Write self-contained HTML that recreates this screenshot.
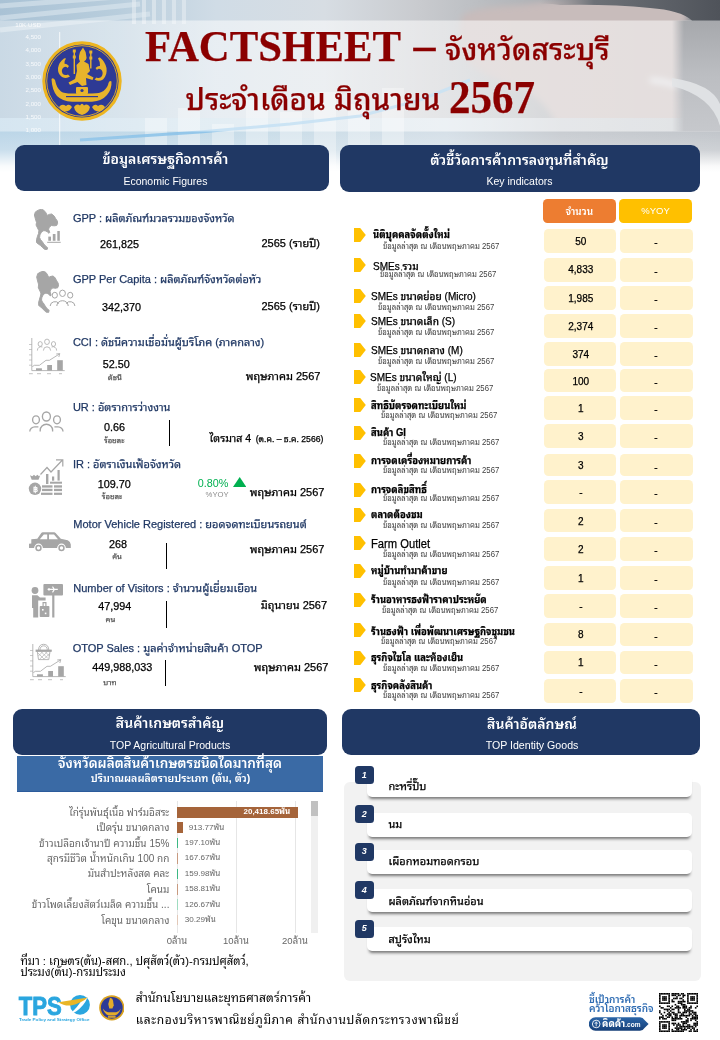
<!DOCTYPE html>
<html><head><meta charset="utf-8"><title>FACTSHEET สระบุรี</title>
<style>
html,body{margin:0;padding:0;}
body{width:720px;height:1040px;position:relative;overflow:hidden;background:#fff;font-family:'Liberation Sans','Noto Sans Thai Looped','Loma',sans-serif;}
.t{position:absolute;white-space:nowrap;-webkit-text-stroke:0.25px currentColor;}
.ns{-webkit-text-stroke:0 !important;}
.r{position:absolute;}
</style></head><body>
<svg class="r" style="left:0;top:0" width="720" height="172" viewBox="0 0 720 172">
<defs>
<linearGradient id="hb" x1="0" y1="0" x2="1" y2="0">
<stop offset="0" stop-color="#a9c2d5"/><stop offset="0.17" stop-color="#b9cedd"/><stop offset="0.3" stop-color="#d0dce6"/><stop offset="0.45" stop-color="#d7dde3"/><stop offset="0.58" stop-color="#c9cbcf"/><stop offset="0.72" stop-color="#b3b6ba"/><stop offset="0.86" stop-color="#979ba1"/><stop offset="1" stop-color="#80858c"/>
</linearGradient>
<radialGradient id="hand" cx="0.5" cy="0.5" r="0.5"><stop offset="0" stop-color="#d3cbcb"/><stop offset="0.75" stop-color="#cfc8c8"/><stop offset="1" stop-color="#cfc8c8" stop-opacity="0"/></radialGradient>
<linearGradient id="fade" x1="0" y1="0" x2="0" y2="1"><stop offset="0" stop-color="#fff" stop-opacity="0"/><stop offset="0.45" stop-color="#fff" stop-opacity="0.2"/><stop offset="0.85" stop-color="#fff" stop-opacity="0.9"/><stop offset="1" stop-color="#fff" stop-opacity="1"/></linearGradient>
<filter id="bl" x="-20%" y="-20%" width="140%" height="140%"><feGaussianBlur stdDeviation="6"/></filter><filter id="bl2" x="-20%" y="-20%" width="140%" height="140%"><feGaussianBlur stdDeviation="3"/></filter>
</defs>
<rect x="0" y="0" width="720" height="172" fill="url(#hb)"/>
<g opacity="0.5" stroke="#e4edf3" stroke-width="5"><path d="M0 6 L130 -4 M0 18 L140 4 M0 30 L150 14"/></g>
<g fill="#e6edf2" opacity="0.6"><rect x="132" y="0" width="4" height="24"/><rect x="142" y="0" width="4" height="24"/><rect x="152" y="0" width="4" height="24"/><rect x="162" y="0" width="4" height="24"/><rect x="172" y="0" width="4" height="24"/><rect x="182" y="0" width="4" height="24"/></g>
<path d="M462 16 Q470 8 520 5 L600 -5 L690 -5 Q684 40 682 80 Q684 110 690 132 L560 134 Q548 100 520 88 Q490 80 470 64 Q455 40 462 16Z" fill="#c8bcbb" filter="url(#bl2)"/>
<path d="M650 80 Q705 85 718 125" stroke="#e4e6ea" stroke-width="5" fill="none" filter="url(#bl2)"/>
<linearGradient id="lowl" x1="0" y1="0" x2="1" y2="0"><stop offset="0" stop-color="#bcd6e8"/><stop offset="0.5" stop-color="#c9dde9"/><stop offset="0.8" stop-color="#cfdbe4" stop-opacity="0.6"/><stop offset="1" stop-color="#cfdbe4" stop-opacity="0"/></linearGradient>
<linearGradient id="lowall" x1="0" y1="0" x2="1" y2="0"><stop offset="0" stop-color="#bcd6e8"/><stop offset="0.35" stop-color="#c9dde9"/><stop offset="0.62" stop-color="#d6e0e8"/><stop offset="0.78" stop-color="#c9cdd2"/><stop offset="1" stop-color="#c2c6cb"/></linearGradient>
<rect x="0" y="118" width="720" height="54" fill="url(#lowall)"/>
<g fill="#ffffff" opacity="0.35"><rect x="145" y="118" width="22" height="54"/><rect x="178" y="108" width="22" height="64"/><rect x="212" y="124" width="22" height="48"/><rect x="246" y="100" width="22" height="72"/><rect x="280" y="112" width="22" height="60"/><rect x="314" y="92" width="22" height="80"/><rect x="348" y="104" width="22" height="68"/><rect x="382" y="88" width="22" height="84"/></g>
<path d="M80 140 L200 132 L290 124 L360 116 L420 100 L470 80" stroke="#86c0e8" stroke-width="3" fill="none" opacity="0.85"/>
<linearGradient id="band" x1="0" y1="0" x2="1" y2="0"><stop offset="0" stop-color="#fff" stop-opacity="0.38"/><stop offset="0.25" stop-color="#fff" stop-opacity="0.5"/><stop offset="0.6" stop-color="#fff" stop-opacity="0.55"/><stop offset="1" stop-color="#fff" stop-opacity="0.5"/></linearGradient>
<rect x="0" y="20.5" width="720" height="111" fill="url(#band)"/>
<rect x="59.2" y="32" width="1" height="140" fill="#fff" opacity="0.8"/>
<g font-family="Liberation Sans" font-size="6.2" fill="#fff" opacity="0.85" text-anchor="end"><text x="41" y="27">10K USD</text><text x="41" y="38.8">4,500</text><text x="41" y="52.3">4,000</text><text x="41" y="65.8">3,500</text><text x="41" y="79.1">3,000</text><text x="41" y="92.3">2,500</text><text x="41" y="106.3">2,000</text><text x="41" y="119.3">1,500</text><text x="41" y="132.3">1,000</text></g>
<linearGradient id="rg" x1="0" y1="0" x2="0" y2="1"><stop offset="0" stop-color="#a6a8ac"/><stop offset="0.5" stop-color="#bcbec2"/><stop offset="1" stop-color="#c6c8cc"/></linearGradient>
<linearGradient id="rgx" x1="0" y1="0" x2="1" y2="0"><stop offset="0" stop-color="#fff" stop-opacity="0"/><stop offset="0.25" stop-color="#fff" stop-opacity="1"/></linearGradient>
<mask id="rm"><rect x="672" y="0" width="48" height="172" fill="url(#rgx)"/></mask>
<rect x="672" y="20.5" width="48" height="111" fill="url(#rg)" mask="url(#rm)"/>
<path d="M672 78 Q712 84 720 104 L720 126 Q712 96 672 86Z" fill="#e2e4e7" opacity="0.9"/>
<linearGradient id="tdg" x1="0" y1="0" x2="1" y2="0"><stop offset="0" stop-color="#7d8187" stop-opacity="0"/><stop offset="0.3" stop-color="#6d7177"/><stop offset="1" stop-color="#4f535a"/></linearGradient>
<path d="M540 0 H720 V20.5 H692 Q680 10 650 8 Q610 4 560 5 Q548 3 540 4Z" fill="url(#tdg)"/>
<linearGradient id="brg" x1="0" y1="0" x2="1" y2="0"><stop offset="0" stop-color="#b8bcc1" stop-opacity="0"/><stop offset="0.3" stop-color="#b8bcc1"/><stop offset="1" stop-color="#c3c8cd"/></linearGradient>

<rect x="0" y="132" width="720" height="40" fill="url(#fade)"/>
</svg>
<svg class="r" style="left:42px;top:41.4px" width="80" height="80" viewBox="0 0 80 80">
<circle cx="40" cy="40" r="39.7" fill="#edb520"/>
<circle cx="40" cy="40" r="36.6" fill="#2e3a95"/>
<circle cx="40" cy="40" r="35.3" fill="none" stroke="#e8b228" stroke-width="0.9"/>
<g fill="#e8b42c">
<path d="M41 6.5 L43.6 11 L44.6 17 Q44 20 42 20.5 L46.5 23 L48 30 L45 33 L51.5 36.5 L50.5 39 L44 37 L44.5 44 L40 45 L35.5 41 L28 44 L26.5 41.5 L33 38 L35 30 L34.5 24 L38 20.5 Q36.5 18.5 37 15 L38 11 Z"/>
<path d="M30.8 8.5 h3 v3 h-0.8 v3 h0.8 v3 h-0.8 v15.5 h-1.4 v-15.5 h-0.8 v-3 h0.8 v-3 h-0.8z"/>
<path d="M47.3 9.5 h3 v3 h-0.8 v3 h0.8 v3 h-0.8 v9 h-1.4 v-9 h-0.8 v-3 h0.8 v-3 h-0.8z"/>
<path d="M22 17.5 Q17 21 16 27 Q15.5 33 20 36 Q24.5 38 28 35.5 L26 33.5 Q22.5 35 20.5 32.5 Q18.8 29 21.5 26.5 Q24 25 25.5 27 L27 25 Q24.5 22.5 22.5 22.8 Q22 20 24 17.5 Q23 17 22 17.5Z"/>
<path d="M58 16.5 Q63 20.5 64.5 27 Q65.5 34 61 38.5 Q57 41 52.5 38.5 L54.5 36.5 Q58 38 60 35 Q61.7 31 59 28.5 Q56.5 27 55 29 L53.5 27 Q56 24.5 58 25 Q58.5 21 56 17.5 Q57 16 58 16.5Z"/>
<path d="M9.5 38 Q11 36 13 39 Q14.5 47 19 50.5 Q22 52.5 30 52.5 L50 52.5 Q58 52.5 61.5 50 Q66 46 66.5 42 Q67.5 39 69.5 40.5 Q70 48 65 54 Q60 60 50 60.8 L30 60.8 Q20 60 15 55 Q10 49 9.5 38Z"/>
<rect x="34" y="46" width="12" height="7" rx="1"/>
<path d="M17 66 Q20 62 24 65 Q27 62 30 66 Q28 70 24 70.5 Q19 70 17 66Z"/>
<path d="M50 66 Q53 62 56 65 Q60 62 63 66 Q61 70 56 70.5 Q52 70 50 66Z"/>
<path d="M32 66 Q35 62 38 64.5 Q40 61 42 64.5 Q45 62 48 66 Q47 72 40 74 Q33 72 32 66Z"/>
</g>
<g fill="#2e3a95"><circle cx="40" cy="49.5" r="1.6"/><rect x="24" y="55" width="32" height="1.2"/></g>
</svg>
<div class="t" style="top:17.65px;font-size:44.3px;line-height:57.59px;color:#8b0000;font-weight:bold;font-family:'Liberation Serif','Noto Serif Thai',serif;left:145.3px;transform:scaleX(0.966);transform-origin:0 0;">FACTSHEET</div>
<div class="t" style="top:17.25px;font-size:44px;line-height:57.2px;color:#8b0000;font-weight:bold;font-family:'Liberation Serif','Noto Serif Thai',serif;left:413.5px;">–</div>
<div class="t" style="top:29.80px;font-size:30px;line-height:39.0px;color:#8b0000;font-weight:500;font-family:'Liberation Sans','Noto Sans Thai Looped','Loma',sans-serif;left:445px;">จังหวัดสระบุรี</div>
<div class="t" style="top:81.40px;font-size:29.7px;line-height:38.61px;color:#8b0000;font-weight:500;font-family:'Liberation Sans','Noto Sans Thai Looped','Loma',sans-serif;left:185.5px;">ประจำเดือน มิถุนายน</div>
<div class="t" style="top:67.87px;font-size:45.5px;line-height:59.15px;color:#8b0000;font-weight:bold;font-family:'Liberation Serif','Noto Serif Thai',serif;left:449px;transform:scaleX(0.945);transform-origin:0 0;">2567</div>
<div class="r" style="left:15px;top:145px;width:314px;height:46px;background:#203864;border-radius:9px;"></div>
<div class="t ns" style="top:150.35px;font-size:14px;line-height:18.2px;color:#fff;font-weight:600;font-family:'Liberation Sans','Noto Sans Thai Looped','Loma',sans-serif;left:-134.6px;width:600px;text-align:center;">ข้อมูลเศรษฐกิจการค้า</div>
<div class="t ns" style="top:174.54px;font-size:10.5px;line-height:13.65px;color:#fff;font-weight:normal;font-family:'Liberation Sans','Noto Sans Thai Looped','Loma',sans-serif;left:-134.6px;width:600px;text-align:center;">Economic Figures</div>
<div class="r" style="left:340px;top:145px;width:360px;height:46.5px;background:#203864;border-radius:9px;"></div>
<div class="t ns" style="top:151.05px;font-size:14px;line-height:18.2px;color:#fff;font-weight:600;font-family:'Liberation Sans','Noto Sans Thai Looped','Loma',sans-serif;left:219.5px;width:600px;text-align:center;">ตัวชี้วัดการค้าการลงทุนที่สำคัญ</div>
<div class="t ns" style="top:175.24px;font-size:10.5px;line-height:13.65px;color:#fff;font-weight:normal;font-family:'Liberation Sans','Noto Sans Thai Looped','Loma',sans-serif;left:219.5px;width:600px;text-align:center;">Key indicators</div>
<svg class="r" style="left:34px;top:209px" width="27" height="41" viewBox="0 0 27 41"><path d="M7.3 0.2 L9.75 1.2 L11.8 3.6 L13.2 6.4 L15.3 5.4 L17.7 5 L20.2 7.1 L21.6 9.5 L23.3 12 L23.6 14.4 L22.6 16.5 L20.2 16.8 L17.4 16.5 L15.3 18.2 L14.6 20.3 L15.7 23.4 L15 24.3 L13.2 22.7 L11.1 21.7 L9.1 21.8 L7.3 23.4 L5.9 25.9 L5.6 28.6 L6.6 30.7 L8.4 32.8 L9.75 34.9 L11.5 37 L13.6 38.7 L13.2 40.4 L10.8 40.4 L8.7 38.7 L6.6 36.6 L4.2 34.9 L2.5 33.5 L2.5 30.7 L3.5 27.25 L4.5 24.5 L4.9 21.7 L3.5 18.9 L2.1 16.1 L2.5 13.4 L1.4 9.9 L0.4 6 L1.4 2.9 L4.2 1.2 Z" fill="#a6a6a6" stroke="#a6a6a6" stroke-width="1" stroke-linejoin="round"/><g fill="#a6a6a6"><rect x="14.3" y="27.6" width="2.7" height="4.2"/><rect x="18.8" y="25" width="2.7" height="6.8"/><rect x="23.3" y="22" width="2.5" height="9.8"/><rect x="13.2" y="32.8" width="13.5" height="1"/></g></svg>
<div class="t" style="top:211.24px;font-size:11px;line-height:14.3px;color:#203864;font-weight:normal;font-family:'Liberation Sans','Noto Sans Thai Looped','Loma',sans-serif;left:72.9px;">GPP : ผลิตภัณฑ์มวลรวมของจังหวัด</div>
<div class="t" style="top:237.04px;font-size:10.8px;line-height:14.04px;color:#000;font-weight:normal;font-family:'Liberation Sans','Noto Sans Thai Looped','Loma',sans-serif;left:100px;">261,825</div>
<div class="t" style="top:236.14px;font-size:11px;line-height:14.3px;color:#000;font-weight:normal;font-family:'Liberation Sans','Noto Sans Thai Looped','Loma',sans-serif;right:400px;text-align:right;">2565 (รายปี)</div>
<svg class="r" style="left:36px;top:271px" width="40" height="42" viewBox="0 0 40 42"><path d="M7.3 0.2 L9.75 1.2 L11.8 3.6 L13.2 6.4 L15.3 5.4 L17.7 5 L20.2 7.1 L21.6 9.5 L23.3 12 L23.6 14.4 L22.6 16.5 L20.2 16.8 L17.4 16.5 L15.3 18.2 L14.6 20.3 L15.7 23.4 L15 24.3 L13.2 22.7 L11.1 21.7 L9.1 21.8 L7.3 23.4 L5.9 25.9 L5.6 28.6 L6.6 30.7 L8.4 32.8 L9.75 34.9 L11.5 37 L13.6 38.7 L13.2 40.4 L10.8 40.4 L8.7 38.7 L6.6 36.6 L4.2 34.9 L2.5 33.5 L2.5 30.7 L3.5 27.25 L4.5 24.5 L4.9 21.7 L3.5 18.9 L2.1 16.1 L2.5 13.4 L1.4 9.9 L0.4 6 L1.4 2.9 L4.2 1.2 Z" fill="#a6a6a6" stroke="#a6a6a6" stroke-width="1" stroke-linejoin="round" transform="translate(0.3,0) scale(0.94,1.02)"/><g fill="none" stroke="#a6a6a6" stroke-width="1"><ellipse cx="18.8" cy="24.2" rx="2.6" ry="2.9"/><ellipse cx="26.5" cy="22.3" rx="2.9" ry="3.2"/><ellipse cx="34.2" cy="24.2" rx="2.6" ry="2.9"/><path d="M14.2 35 a4.8 4.4 0 0 1 8.8 -2.4"/><path d="M20.8 35 a5.7 5.3 0 0 1 11.4 0"/><path d="M30.1 32.6 a4.8 4.4 0 0 1 8.8 2.4"/></g></svg>
<div class="t" style="top:271.74px;font-size:11px;line-height:14.3px;color:#203864;font-weight:normal;font-family:'Liberation Sans','Noto Sans Thai Looped','Loma',sans-serif;left:72.9px;">GPP Per Capita : ผลิตภัณฑ์จังหวัดต่อหัว</div>
<div class="t" style="top:299.64px;font-size:10.8px;line-height:14.04px;color:#000;font-weight:normal;font-family:'Liberation Sans','Noto Sans Thai Looped','Loma',sans-serif;left:102px;">342,370</div>
<div class="t" style="top:299.04px;font-size:11px;line-height:14.3px;color:#000;font-weight:normal;font-family:'Liberation Sans','Noto Sans Thai Looped','Loma',sans-serif;right:400px;text-align:right;">2565 (รายปี)</div>
<svg class="r" style="left:25px;top:333px" width="45" height="45" viewBox="0 0 45 45"><g stroke="#a6a6a6" fill="none"><path d="M6.8 5 V37.6 H39.7" stroke-width="0.8"/>
<path d="M4 11.5 H6.8 M4 16.5 H6.8 M4 21.9 H6.8 M4 27 H6.8 M4 32.2 H6.8" stroke-width="0.6"/>
<path d="M7.3 33.6 L9.4 32.3 H14.4 L21 27.3 H24.4 L34.4 21" stroke-width="0.8"/>
<path d="M31.2 21 L34.8 20.6 L33.8 24" stroke-width="0.8"/>
<path d="M4 40.7 H7.8 M12 40.7 H16 M22 40.7 H26 M34 40.7 H37" stroke-width="0.7"/></g>
<g fill="#a6a6a6"><rect x="11" y="35.3" width="5.9" height="2.3"/><rect x="22.2" y="32" width="4.8" height="5.6"/><rect x="32.2" y="27.2" width="5.6" height="10.4"/></g><g fill="none" stroke="#a6a6a6" stroke-width="0.75"><ellipse cx="15.2" cy="11" rx="2.1" ry="2.4"/><ellipse cx="22" cy="8.8" rx="2.4" ry="2.7"/><ellipse cx="28.5" cy="11" rx="2.1" ry="2.4"/><path d="M12.4 17.6 a3.6 3.6 0 0 1 5 -3.6"/><path d="M18.4 17.6 a3.6 3.8 0 0 1 7.2 0"/><path d="M26.6 14 a3.6 3.6 0 0 1 5 3.6"/></g></svg>
<div class="t" style="top:335.04px;font-size:11px;line-height:14.3px;color:#203864;font-weight:normal;font-family:'Liberation Sans','Noto Sans Thai Looped','Loma',sans-serif;left:72.9px;">CCI : ดัชนีความเชื่อมั่นผู้บริโภค (ภาคกลาง)</div>
<div class="t" style="top:357.04px;font-size:10.8px;line-height:14.04px;color:#000;font-weight:normal;font-family:'Liberation Sans','Noto Sans Thai Looped','Loma',sans-serif;left:102.7px;">52.50</div>
<div class="t" style="top:372.73px;font-size:7.7px;line-height:10.01px;color:#595959;font-weight:normal;font-family:'Liberation Sans','Noto Sans Thai Looped','Loma',sans-serif;left:107.8px;">ดัชนี</div>
<div class="t" style="top:368.64px;font-size:11px;line-height:14.3px;color:#000;font-weight:normal;font-family:'Liberation Sans','Noto Sans Thai Looped','Loma',sans-serif;right:399.6px;text-align:right;">พฤษภาคม 2567</div>
<svg class="r" style="left:25px;top:405px" width="45" height="32" viewBox="0 0 45 32"><g fill="none" stroke="#a6a6a6" stroke-width="1.35"><ellipse cx="21.4" cy="11.5" rx="4" ry="4.5"/><ellipse cx="11" cy="14.8" rx="3.4" ry="4"/><ellipse cx="32" cy="14.8" rx="3.4" ry="4"/><path d="M15.2 26.6 V25 a6.2 5.8 0 0 1 12.4 0 V26.6"/><path d="M4.8 26.6 a5 4.8 0 0 1 5 -4.8 H13.4"/><path d="M29.4 21.8 H33 a5 4.8 0 0 1 5 4.8"/></g></svg>
<div class="t" style="top:399.74px;font-size:11px;line-height:14.3px;color:#203864;font-weight:normal;font-family:'Liberation Sans','Noto Sans Thai Looped','Loma',sans-serif;left:72.9px;">UR : อัตราการว่างงาน</div>
<div class="t" style="top:419.94px;font-size:10.8px;line-height:14.04px;color:#000;font-weight:normal;font-family:'Liberation Sans','Noto Sans Thai Looped','Loma',sans-serif;left:104px;">0.66</div>
<div class="t" style="top:435.63px;font-size:7.7px;line-height:10.01px;color:#595959;font-weight:normal;font-family:'Liberation Sans','Noto Sans Thai Looped','Loma',sans-serif;left:104px;">ร้อยละ</div>
<div class="r" style="left:168.8px;top:419.6px;width:1.1px;height:26px;background:#000;border-radius:0px;"></div>
<div class="t" style="right:396.7px;top:429.5px;line-height:14px;font-family:'Liberation Sans','Noto Sans Thai Looped','Loma',sans-serif;color:#000;text-align:right"><span style="font-size:10.6px">ไตรมาส 4</span> <span style="font-size:8.6px">(ต.ค. – ธ.ค. 2566)</span></div>
<svg class="r" style="left:25px;top:455px" width="45" height="45" viewBox="0 0 45 45"><g fill="#a6a6a6"><path d="M5 20.3 L7.3 21.2 L9 19.8 L10.6 21.2 L12.4 19.8 L14 21.2 L15.3 20.3 L13.5 24.8 L6.7 24.8Z"/><circle cx="10" cy="33.8" r="6.2"/>
<rect x="21" y="19" width="2.4" height="10"/><rect x="27" y="21.5" width="2.2" height="4.2"/><rect x="32.5" y="15" width="2.2" height="10.6"/>
<rect x="25" y="26.7" width="12" height="2"/><rect x="17" y="30.3" width="10.5" height="2.3"/><rect x="29" y="30.3" width="8" height="2.3"/><rect x="17" y="33.8" width="10.5" height="2.3"/><rect x="29" y="33.8" width="8" height="2.3"/><rect x="16" y="37.7" width="11.5" height="2.2"/><rect x="29" y="37.7" width="8" height="2.2"/></g>
<path d="M15.5 19.5 L22 12.5 L26 17 L37 5.5 M31 4.8 H37.8 V11.5" fill="none" stroke="#a6a6a6" stroke-width="1.2"/>
<text x="10" y="36.6" font-size="7.5" font-family="Liberation Sans" font-weight="bold" fill="#fff" text-anchor="middle">฿</text></svg>
<div class="t" style="top:456.84px;font-size:11px;line-height:14.3px;color:#203864;font-weight:normal;font-family:'Liberation Sans','Noto Sans Thai Looped','Loma',sans-serif;left:72.9px;">IR : อัตราเงินเฟ้อจังหวัด</div>
<div class="t" style="top:477.04px;font-size:10.8px;line-height:14.04px;color:#000;font-weight:normal;font-family:'Liberation Sans','Noto Sans Thai Looped','Loma',sans-serif;left:97.8px;">109.70</div>
<div class="t" style="top:491.63px;font-size:7.7px;line-height:10.01px;color:#595959;font-weight:normal;font-family:'Liberation Sans','Noto Sans Thai Looped','Loma',sans-serif;left:101.8px;">ร้อยละ</div>
<div class="t ns" style="top:475.94px;font-size:10.8px;line-height:14.04px;color:#00b050;font-weight:normal;font-family:'Liberation Sans','Noto Sans Thai Looped','Loma',sans-serif;left:197.8px;">0.80%</div>
<svg class="r" style="left:232.8px;top:477px" width="13.4" height="10" viewBox="0 0 13.4 10"><path d="M6.7 0 L13.4 10 H0Z" fill="#00b050"/></svg>
<div class="t ns" style="top:490.13px;font-size:7.7px;line-height:10.01px;color:#8c8c8c;font-weight:normal;font-family:'Liberation Sans','Noto Sans Thai Looped','Loma',sans-serif;left:205.6px;">%YOY</div>
<div class="t" style="top:484.64px;font-size:11px;line-height:14.3px;color:#000;font-weight:normal;font-family:'Liberation Sans','Noto Sans Thai Looped','Loma',sans-serif;right:395.6px;text-align:right;">พฤษภาคม 2567</div>
<div class="t" style="top:516.84px;font-size:11px;line-height:14.3px;color:#203864;font-weight:normal;font-family:'Liberation Sans','Noto Sans Thai Looped','Loma',sans-serif;left:73.3px;">Motor Vehicle Registered : ยอดจดทะเบียนรถยนต์</div>
<svg class="r" style="left:25px;top:525px" width="50" height="30" viewBox="0 0 50 30"><path d="M4 18.7 L6.3 18.5 L6.3 14.3 L12.3 13.8 L16.3 8 Q16.8 7.3 17.8 7.3 H29.2 Q30 7.3 30.6 8 L35.8 13.8 L42.7 15.3 Q45.5 16.5 45.8 19.5 V22.9 H4Z" fill="#a6a6a6"/>
<path d="M14.8 14.3 L18.8 9.5 H22.2 V14.3Z M24 9.5 H29 L33 14.3 H24Z" fill="#fff"/>
<circle cx="13.5" cy="23" r="4.4" fill="#fff"/><circle cx="13.5" cy="23" r="3.2" fill="#a6a6a6"/><circle cx="13.5" cy="23" r="1.7" fill="#fff"/>
<circle cx="36.5" cy="23" r="4.4" fill="#fff"/><circle cx="36.5" cy="23" r="3.2" fill="#a6a6a6"/><circle cx="36.5" cy="23" r="1.7" fill="#fff"/></svg>
<div class="t" style="top:537.04px;font-size:10.8px;line-height:14.04px;color:#000;font-weight:normal;font-family:'Liberation Sans','Noto Sans Thai Looped','Loma',sans-serif;left:108.9px;">268</div>
<div class="t" style="top:552.33px;font-size:7.7px;line-height:10.01px;color:#595959;font-weight:normal;font-family:'Liberation Sans','Noto Sans Thai Looped','Loma',sans-serif;left:112.2px;">คัน</div>
<div class="r" style="left:165.7px;top:543px;width:1.1px;height:26px;background:#000;border-radius:0px;"></div>
<div class="t" style="top:541.74px;font-size:11px;line-height:14.3px;color:#000;font-weight:normal;font-family:'Liberation Sans','Noto Sans Thai Looped','Loma',sans-serif;right:395.6px;text-align:right;">พฤษภาคม 2567</div>
<svg class="r" style="left:25px;top:578px" width="45" height="45" viewBox="0 0 45 45"><g fill="#a6a6a6"><rect x="18.4" y="6" width="19.6" height="11.5" rx="1"/><rect x="27.2" y="17" width="2.2" height="22.5"/>
<circle cx="10" cy="12.5" r="3.4"/><path d="M7 17.2 H12.4 L15 19.6 H20.6 V22.4 H13.2 V39.4 H8.2 V30 H7Z"/>
<rect x="14.7" y="28" width="9.7" height="11" rx="0.8"/><path d="M17.5 28 V24 H21.5 V28 H20.3 V25.2 H18.7 V28Z"/></g>
<path d="M22.6 11.4 H32.8 M27.5 8.6 L29.4 11.4 L27.5 14.4 M24 10 V12.8" stroke="#fff" stroke-width="1.1" fill="none"/>
<rect x="17" y="31" width="1.6" height="1.6" fill="#fff"/><rect x="19.8" y="34.6" width="1.6" height="1.6" fill="#fff"/></svg>
<div class="t" style="top:580.64px;font-size:11px;line-height:14.3px;color:#203864;font-weight:normal;font-family:'Liberation Sans','Noto Sans Thai Looped','Loma',sans-serif;left:73.3px;">Number of Visitors : จำนวนผู้เยี่ยมเยือน</div>
<div class="t" style="top:599.24px;font-size:10.8px;line-height:14.04px;color:#000;font-weight:normal;font-family:'Liberation Sans','Noto Sans Thai Looped','Loma',sans-serif;left:98.2px;">47,994</div>
<div class="t" style="top:615.03px;font-size:7.7px;line-height:10.01px;color:#595959;font-weight:normal;font-family:'Liberation Sans','Noto Sans Thai Looped','Loma',sans-serif;left:105.6px;">คน</div>
<div class="r" style="left:165.7px;top:601px;width:1.1px;height:27px;background:#000;border-radius:0px;"></div>
<div class="t" style="top:597.94px;font-size:11px;line-height:14.3px;color:#000;font-weight:normal;font-family:'Liberation Sans','Noto Sans Thai Looped','Loma',sans-serif;right:392.9px;text-align:right;">มิถุนายน 2567</div>
<svg class="r" style="left:25.5px;top:638.5px" width="45" height="45" viewBox="0 0 45 45"><g stroke="#a6a6a6" fill="none"><path d="M6.8 5 V37.6 H39.7" stroke-width="0.8"/>
<path d="M4 11.5 H6.8 M4 16.5 H6.8 M4 21.9 H6.8 M4 27 H6.8 M4 32.2 H6.8" stroke-width="0.6"/>
<path d="M7.3 33.6 L9.4 32.3 H14.4 L21 27.3 H24.4 L34.4 21" stroke-width="0.8"/>
<path d="M31.2 21 L34.8 20.6 L33.8 24" stroke-width="0.8"/>
<path d="M4 40.7 H7.8 M12 40.7 H16 M22 40.7 H26 M34 40.7 H37" stroke-width="0.7"/></g>
<g fill="#a6a6a6"><rect x="11" y="35.3" width="5.9" height="2.3"/><rect x="22.2" y="32" width="4.8" height="5.6"/><rect x="32.2" y="27.2" width="5.6" height="10.4"/></g><g fill="none" stroke="#a6a6a6" stroke-width="0.8"><path d="M12.5 11.6 Q12.5 5.3 17.6 5.3 Q22.8 5.3 22.8 11.6"/><path d="M14 11.6 Q14 6.8 17.6 6.8 Q21.3 6.8 21.3 11.6"/>
<rect x="10" y="11" width="15.3" height="1.4" fill="#a6a6a6"/><path d="M11.3 12.4 L12.5 20.6 H22.8 L24 12.4"/>
<path d="M12 14 L18 20 M15 12.6 L22 19.6 M19 12.6 L23.4 17 M12.4 17 L16.8 12.6 M13.4 20.4 L21.6 12.6 M17.8 20.4 L23.6 14.6" stroke-width="0.6"/></g></svg>
<div class="t" style="top:641.24px;font-size:11px;line-height:14.3px;color:#203864;font-weight:normal;font-family:'Liberation Sans','Noto Sans Thai Looped','Loma',sans-serif;left:72.7px;">OTOP Sales : มูลค่าจำหน่ายสินค้า OTOP</div>
<div class="t" style="top:659.64px;font-size:10.8px;line-height:14.04px;color:#000;font-weight:normal;font-family:'Liberation Sans','Noto Sans Thai Looped','Loma',sans-serif;left:92.2px;">449,988,033</div>
<div class="t" style="top:677.93px;font-size:7.7px;line-height:10.01px;color:#595959;font-weight:normal;font-family:'Liberation Sans','Noto Sans Thai Looped','Loma',sans-serif;left:103.3px;">บาท</div>
<div class="r" style="left:165.2px;top:660px;width:1.1px;height:26px;background:#000;border-radius:0px;"></div>
<div class="t" style="top:660.14px;font-size:11px;line-height:14.3px;color:#000;font-weight:normal;font-family:'Liberation Sans','Noto Sans Thai Looped','Loma',sans-serif;right:391.6px;text-align:right;">พฤษภาคม 2567</div>
<div class="r" style="left:543px;top:199px;width:72.7px;height:23.7px;background:#ed7d31;border-radius:4.5px;"></div>
<div class="t ns" style="top:204.53px;font-size:10px;line-height:13.0px;color:#fff;font-weight:normal;font-family:'Liberation Sans','Noto Sans Thai Looped','Loma',sans-serif;left:279.29999999999995px;width:600px;text-align:center;font-weight:600;">จำนวน</div>
<div class="r" style="left:619.3px;top:199px;width:72.7px;height:23.7px;background:#ffc000;border-radius:4.5px;"></div>
<div class="t ns" style="top:205.03px;font-size:9.5px;line-height:12.35px;color:#fff;font-weight:normal;font-family:'Liberation Sans','Noto Sans Thai Looped','Loma',sans-serif;left:355.6px;width:600px;text-align:center;">%YOY</div>
<div class="r" style="left:544px;top:229px;width:71.5px;height:23.6px;background:#fff2cc;border-radius:4.5px;"></div>
<div class="r" style="left:620px;top:229px;width:72.5px;height:23.6px;background:#fff2cc;border-radius:4.5px;"></div>
<div class="t" style="top:234.53px;font-size:10px;line-height:13.0px;color:#000;font-weight:normal;font-family:'Liberation Sans','Noto Sans Thai Looped','Loma',sans-serif;left:280.79999999999995px;width:600px;text-align:center;">50</div>
<div class="t" style="top:236.03px;font-size:10px;line-height:13.0px;color:#000;font-weight:normal;font-family:'Liberation Sans','Noto Sans Thai Looped','Loma',sans-serif;left:356px;width:600px;text-align:center;">-</div>
<svg class="r" style="left:354.2px;top:228.3px" width="11.8" height="14.2" viewBox="0 0 11.8 14.2"><path d="M0 0 H6.2 L11.8 7.1 L6.2 14.2 H0Z" fill="#ffc000"/></svg>
<div class="t" style="top:228.34px;font-size:10.4px;line-height:13.52px;color:#000;font-weight:normal;font-family:'Liberation Sans','Noto Sans Thai Looped','Loma',sans-serif;left:373.3px;transform:scaleX(0.91);transform-origin:0 0;"><b>นิติบุคคลจัดตั้งใหม่</b></div>
<div class="t ns" style="top:241.83px;font-size:8.2px;line-height:10.66px;color:#404040;font-weight:normal;font-family:'Liberation Sans','Noto Sans Thai Looped','Loma',sans-serif;left:382.5px;transform:scaleX(0.95);transform-origin:0 0;">ข้อมูลล่าสุด ณ เดือนพฤษภาคม 2567</div>
<div class="r" style="left:544px;top:257.8px;width:71.5px;height:24.1px;background:#fff2cc;border-radius:4.5px;"></div>
<div class="r" style="left:620px;top:257.8px;width:72.5px;height:24.1px;background:#fff2cc;border-radius:4.5px;"></div>
<div class="t" style="top:263.34px;font-size:10px;line-height:13.0px;color:#000;font-weight:normal;font-family:'Liberation Sans','Noto Sans Thai Looped','Loma',sans-serif;left:280.79999999999995px;width:600px;text-align:center;">4,833</div>
<div class="t" style="top:264.84px;font-size:10px;line-height:13.0px;color:#000;font-weight:normal;font-family:'Liberation Sans','Noto Sans Thai Looped','Loma',sans-serif;left:356px;width:600px;text-align:center;">-</div>
<svg class="r" style="left:354.2px;top:257.5px" width="11.8" height="14.2" viewBox="0 0 11.8 14.2"><path d="M0 0 H6.2 L11.8 7.1 L6.2 14.2 H0Z" fill="#ffc000"/></svg>
<div class="t" style="top:259.94px;font-size:10.4px;line-height:13.52px;color:#000;font-weight:normal;font-family:'Liberation Sans','Noto Sans Thai Looped','Loma',sans-serif;left:372.5px;transform:scaleX(0.965);transform-origin:0 0;">SMEs <span style="font-weight:500">รวม</span></div>
<div class="t ns" style="top:269.83px;font-size:8.2px;line-height:10.66px;color:#404040;font-weight:normal;font-family:'Liberation Sans','Noto Sans Thai Looped','Loma',sans-serif;left:380px;transform:scaleX(0.95);transform-origin:0 0;">ข้อมูลล่าสุด ณ เดือนพฤษภาคม 2567</div>
<div class="r" style="left:544px;top:286.1px;width:71.5px;height:23.6px;background:#fff2cc;border-radius:4.5px;"></div>
<div class="r" style="left:620px;top:286.1px;width:72.5px;height:23.6px;background:#fff2cc;border-radius:4.5px;"></div>
<div class="t" style="top:291.64px;font-size:10px;line-height:13.0px;color:#000;font-weight:normal;font-family:'Liberation Sans','Noto Sans Thai Looped','Loma',sans-serif;left:280.79999999999995px;width:600px;text-align:center;">1,985</div>
<div class="t" style="top:293.14px;font-size:10px;line-height:13.0px;color:#000;font-weight:normal;font-family:'Liberation Sans','Noto Sans Thai Looped','Loma',sans-serif;left:356px;width:600px;text-align:center;">-</div>
<svg class="r" style="left:354.2px;top:289.2px" width="11.8" height="14.2" viewBox="0 0 11.8 14.2"><path d="M0 0 H6.2 L11.8 7.1 L6.2 14.2 H0Z" fill="#ffc000"/></svg>
<div class="t" style="top:289.64px;font-size:10.4px;line-height:13.52px;color:#000;font-weight:normal;font-family:'Liberation Sans','Noto Sans Thai Looped','Loma',sans-serif;left:371.3px;transform:scaleX(0.965);transform-origin:0 0;">SMEs <span style="font-weight:500">ขนาดย่อย</span> (Micro)</div>
<div class="t ns" style="top:302.63px;font-size:8.2px;line-height:10.66px;color:#404040;font-weight:normal;font-family:'Liberation Sans','Noto Sans Thai Looped','Loma',sans-serif;left:378px;transform:scaleX(0.95);transform-origin:0 0;">ข้อมูลล่าสุด ณ เดือนพฤษภาคม 2567</div>
<div class="r" style="left:544px;top:314px;width:71.5px;height:23.6px;background:#fff2cc;border-radius:4.5px;"></div>
<div class="r" style="left:620px;top:314px;width:72.5px;height:23.6px;background:#fff2cc;border-radius:4.5px;"></div>
<div class="t" style="top:319.54px;font-size:10px;line-height:13.0px;color:#000;font-weight:normal;font-family:'Liberation Sans','Noto Sans Thai Looped','Loma',sans-serif;left:280.79999999999995px;width:600px;text-align:center;">2,374</div>
<div class="t" style="top:321.04px;font-size:10px;line-height:13.0px;color:#000;font-weight:normal;font-family:'Liberation Sans','Noto Sans Thai Looped','Loma',sans-serif;left:356px;width:600px;text-align:center;">-</div>
<svg class="r" style="left:354.2px;top:314.2px" width="11.8" height="14.2" viewBox="0 0 11.8 14.2"><path d="M0 0 H6.2 L11.8 7.1 L6.2 14.2 H0Z" fill="#ffc000"/></svg>
<div class="t" style="top:314.94px;font-size:10.4px;line-height:13.52px;color:#000;font-weight:normal;font-family:'Liberation Sans','Noto Sans Thai Looped','Loma',sans-serif;left:371.3px;transform:scaleX(0.965);transform-origin:0 0;">SMEs <span style="font-weight:500">ขนาดเล็ก</span> (S)</div>
<div class="t ns" style="top:327.63px;font-size:8.2px;line-height:10.66px;color:#404040;font-weight:normal;font-family:'Liberation Sans','Noto Sans Thai Looped','Loma',sans-serif;left:378px;transform:scaleX(0.95);transform-origin:0 0;">ข้อมูลล่าสุด ณ เดือนพฤษภาคม 2567</div>
<div class="r" style="left:544px;top:342px;width:71.5px;height:23.7px;background:#fff2cc;border-radius:4.5px;"></div>
<div class="r" style="left:620px;top:342px;width:72.5px;height:23.7px;background:#fff2cc;border-radius:4.5px;"></div>
<div class="t" style="top:347.54px;font-size:10px;line-height:13.0px;color:#000;font-weight:normal;font-family:'Liberation Sans','Noto Sans Thai Looped','Loma',sans-serif;left:280.79999999999995px;width:600px;text-align:center;">374</div>
<div class="t" style="top:349.04px;font-size:10px;line-height:13.0px;color:#000;font-weight:normal;font-family:'Liberation Sans','Noto Sans Thai Looped','Loma',sans-serif;left:356px;width:600px;text-align:center;">-</div>
<svg class="r" style="left:354.2px;top:343.0px" width="11.8" height="14.2" viewBox="0 0 11.8 14.2"><path d="M0 0 H6.2 L11.8 7.1 L6.2 14.2 H0Z" fill="#ffc000"/></svg>
<div class="t" style="top:344.34px;font-size:10.4px;line-height:13.52px;color:#000;font-weight:normal;font-family:'Liberation Sans','Noto Sans Thai Looped','Loma',sans-serif;left:370.8px;transform:scaleX(0.965);transform-origin:0 0;">SMEs <span style="font-weight:500">ขนาดกลาง</span> (M)</div>
<div class="t ns" style="top:356.83px;font-size:8.2px;line-height:10.66px;color:#404040;font-weight:normal;font-family:'Liberation Sans','Noto Sans Thai Looped','Loma',sans-serif;left:377.5px;transform:scaleX(0.95);transform-origin:0 0;">ข้อมูลล่าสุด ณ เดือนพฤษภาคม 2567</div>
<div class="r" style="left:544px;top:369.2px;width:71.5px;height:23.2px;background:#fff2cc;border-radius:4.5px;"></div>
<div class="r" style="left:620px;top:369.2px;width:72.5px;height:23.2px;background:#fff2cc;border-radius:4.5px;"></div>
<div class="t" style="top:374.74px;font-size:10px;line-height:13.0px;color:#000;font-weight:normal;font-family:'Liberation Sans','Noto Sans Thai Looped','Loma',sans-serif;left:280.79999999999995px;width:600px;text-align:center;">100</div>
<div class="t" style="top:376.24px;font-size:10px;line-height:13.0px;color:#000;font-weight:normal;font-family:'Liberation Sans','Noto Sans Thai Looped','Loma',sans-serif;left:356px;width:600px;text-align:center;">-</div>
<svg class="r" style="left:354.2px;top:370.0px" width="11.8" height="14.2" viewBox="0 0 11.8 14.2"><path d="M0 0 H6.2 L11.8 7.1 L6.2 14.2 H0Z" fill="#ffc000"/></svg>
<div class="t" style="top:371.34px;font-size:10.4px;line-height:13.52px;color:#000;font-weight:normal;font-family:'Liberation Sans','Noto Sans Thai Looped','Loma',sans-serif;left:370px;transform:scaleX(0.965);transform-origin:0 0;">SMEs <span style="font-weight:500">ขนาดใหญ่</span> (L)</div>
<div class="t ns" style="top:383.53px;font-size:8.2px;line-height:10.66px;color:#404040;font-weight:normal;font-family:'Liberation Sans','Noto Sans Thai Looped','Loma',sans-serif;left:376.7px;transform:scaleX(0.95);transform-origin:0 0;">ข้อมูลล่าสุด ณ เดือนพฤษภาคม 2567</div>
<div class="r" style="left:544px;top:396px;width:71.5px;height:23.5px;background:#fff2cc;border-radius:4.5px;"></div>
<div class="r" style="left:620px;top:396px;width:72.5px;height:23.5px;background:#fff2cc;border-radius:4.5px;"></div>
<div class="t" style="top:401.54px;font-size:10px;line-height:13.0px;color:#000;font-weight:normal;font-family:'Liberation Sans','Noto Sans Thai Looped','Loma',sans-serif;left:280.79999999999995px;width:600px;text-align:center;">1</div>
<div class="t" style="top:403.04px;font-size:10px;line-height:13.0px;color:#000;font-weight:normal;font-family:'Liberation Sans','Noto Sans Thai Looped','Loma',sans-serif;left:356px;width:600px;text-align:center;">-</div>
<svg class="r" style="left:354.2px;top:398.0px" width="11.8" height="14.2" viewBox="0 0 11.8 14.2"><path d="M0 0 H6.2 L11.8 7.1 L6.2 14.2 H0Z" fill="#ffc000"/></svg>
<div class="t" style="top:399.14px;font-size:10.4px;line-height:13.52px;color:#000;font-weight:normal;font-family:'Liberation Sans','Noto Sans Thai Looped','Loma',sans-serif;left:370.8px;transform:scaleX(0.91);transform-origin:0 0;"><b>สิทธิบัตรจดทะเบียนใหม่</b></div>
<div class="t ns" style="top:410.53px;font-size:8.2px;line-height:10.66px;color:#404040;font-weight:normal;font-family:'Liberation Sans','Noto Sans Thai Looped','Loma',sans-serif;left:380.8px;transform:scaleX(0.95);transform-origin:0 0;">ข้อมูลล่าสุด ณ เดือนพฤษภาคม 2567</div>
<div class="r" style="left:544px;top:424.2px;width:71.5px;height:23.7px;background:#fff2cc;border-radius:4.5px;"></div>
<div class="r" style="left:620px;top:424.2px;width:72.5px;height:23.7px;background:#fff2cc;border-radius:4.5px;"></div>
<div class="t" style="top:429.74px;font-size:10px;line-height:13.0px;color:#000;font-weight:normal;font-family:'Liberation Sans','Noto Sans Thai Looped','Loma',sans-serif;left:280.79999999999995px;width:600px;text-align:center;">3</div>
<div class="t" style="top:431.24px;font-size:10px;line-height:13.0px;color:#000;font-weight:normal;font-family:'Liberation Sans','Noto Sans Thai Looped','Loma',sans-serif;left:356px;width:600px;text-align:center;">-</div>
<svg class="r" style="left:354.2px;top:425.8px" width="11.8" height="14.2" viewBox="0 0 11.8 14.2"><path d="M0 0 H6.2 L11.8 7.1 L6.2 14.2 H0Z" fill="#ffc000"/></svg>
<div class="t" style="top:426.34px;font-size:10.4px;line-height:13.52px;color:#000;font-weight:normal;font-family:'Liberation Sans','Noto Sans Thai Looped','Loma',sans-serif;left:370.8px;transform:scaleX(0.91);transform-origin:0 0;"><b>สินค้า GI</b></div>
<div class="t ns" style="top:438.13px;font-size:8.2px;line-height:10.66px;color:#404040;font-weight:normal;font-family:'Liberation Sans','Noto Sans Thai Looped','Loma',sans-serif;left:382.5px;transform:scaleX(0.95);transform-origin:0 0;">ข้อมูลล่าสุด ณ เดือนพฤษภาคม 2567</div>
<div class="r" style="left:544px;top:453.5px;width:71.5px;height:22.8px;background:#fff2cc;border-radius:4.5px;"></div>
<div class="r" style="left:620px;top:453.5px;width:72.5px;height:22.8px;background:#fff2cc;border-radius:4.5px;"></div>
<div class="t" style="top:459.04px;font-size:10px;line-height:13.0px;color:#000;font-weight:normal;font-family:'Liberation Sans','Noto Sans Thai Looped','Loma',sans-serif;left:280.79999999999995px;width:600px;text-align:center;">3</div>
<div class="t" style="top:460.54px;font-size:10px;line-height:13.0px;color:#000;font-weight:normal;font-family:'Liberation Sans','Noto Sans Thai Looped','Loma',sans-serif;left:356px;width:600px;text-align:center;">-</div>
<svg class="r" style="left:354.2px;top:453.7px" width="11.8" height="14.2" viewBox="0 0 11.8 14.2"><path d="M0 0 H6.2 L11.8 7.1 L6.2 14.2 H0Z" fill="#ffc000"/></svg>
<div class="t" style="top:454.34px;font-size:10.4px;line-height:13.52px;color:#000;font-weight:normal;font-family:'Liberation Sans','Noto Sans Thai Looped','Loma',sans-serif;left:370.8px;transform:scaleX(0.91);transform-origin:0 0;"><b>การจดเครื่องหมายการค้า</b></div>
<div class="t ns" style="top:466.03px;font-size:8.2px;line-height:10.66px;color:#404040;font-weight:normal;font-family:'Liberation Sans','Noto Sans Thai Looped','Loma',sans-serif;left:382.5px;transform:scaleX(0.95);transform-origin:0 0;">ข้อมูลล่าสุด ณ เดือนพฤษภาคม 2567</div>
<div class="r" style="left:544px;top:480.2px;width:71.5px;height:24.2px;background:#fff2cc;border-radius:4.5px;"></div>
<div class="r" style="left:620px;top:480.2px;width:72.5px;height:24.2px;background:#fff2cc;border-radius:4.5px;"></div>
<div class="t" style="top:485.74px;font-size:10px;line-height:13.0px;color:#000;font-weight:normal;font-family:'Liberation Sans','Noto Sans Thai Looped','Loma',sans-serif;left:280.79999999999995px;width:600px;text-align:center;">-</div>
<div class="t" style="top:487.24px;font-size:10px;line-height:13.0px;color:#000;font-weight:normal;font-family:'Liberation Sans','Noto Sans Thai Looped','Loma',sans-serif;left:356px;width:600px;text-align:center;">-</div>
<svg class="r" style="left:354.2px;top:482.5px" width="11.8" height="14.2" viewBox="0 0 11.8 14.2"><path d="M0 0 H6.2 L11.8 7.1 L6.2 14.2 H0Z" fill="#ffc000"/></svg>
<div class="t" style="top:482.94px;font-size:10.4px;line-height:13.52px;color:#000;font-weight:normal;font-family:'Liberation Sans','Noto Sans Thai Looped','Loma',sans-serif;left:370.8px;transform:scaleX(0.91);transform-origin:0 0;"><b>การจดลิขสิทธิ์</b></div>
<div class="t ns" style="top:494.33px;font-size:8.2px;line-height:10.66px;color:#404040;font-weight:normal;font-family:'Liberation Sans','Noto Sans Thai Looped','Loma',sans-serif;left:382.5px;transform:scaleX(0.95);transform-origin:0 0;">ข้อมูลล่าสุด ณ เดือนพฤษภาคม 2567</div>
<div class="r" style="left:544px;top:509.3px;width:71.5px;height:23.1px;background:#fff2cc;border-radius:4.5px;"></div>
<div class="r" style="left:620px;top:509.3px;width:72.5px;height:23.1px;background:#fff2cc;border-radius:4.5px;"></div>
<div class="t" style="top:514.83px;font-size:10px;line-height:13.0px;color:#000;font-weight:normal;font-family:'Liberation Sans','Noto Sans Thai Looped','Loma',sans-serif;left:280.79999999999995px;width:600px;text-align:center;">2</div>
<div class="t" style="top:516.33px;font-size:10px;line-height:13.0px;color:#000;font-weight:normal;font-family:'Liberation Sans','Noto Sans Thai Looped','Loma',sans-serif;left:356px;width:600px;text-align:center;">-</div>
<svg class="r" style="left:354.2px;top:508.0px" width="11.8" height="14.2" viewBox="0 0 11.8 14.2"><path d="M0 0 H6.2 L11.8 7.1 L6.2 14.2 H0Z" fill="#ffc000"/></svg>
<div class="t" style="top:507.94px;font-size:10.4px;line-height:13.52px;color:#000;font-weight:normal;font-family:'Liberation Sans','Noto Sans Thai Looped','Loma',sans-serif;left:370.8px;transform:scaleX(0.91);transform-origin:0 0;"><b>ตลาดต้องชม</b></div>
<div class="t ns" style="top:521.03px;font-size:8.2px;line-height:10.66px;color:#404040;font-weight:normal;font-family:'Liberation Sans','Noto Sans Thai Looped','Loma',sans-serif;left:382.5px;transform:scaleX(0.95);transform-origin:0 0;">ข้อมูลล่าสุด ณ เดือนพฤษภาคม 2567</div>
<div class="r" style="left:544px;top:537.3px;width:71.5px;height:24.2px;background:#fff2cc;border-radius:4.5px;"></div>
<div class="r" style="left:620px;top:537.3px;width:72.5px;height:24.2px;background:#fff2cc;border-radius:4.5px;"></div>
<div class="t" style="top:542.83px;font-size:10px;line-height:13.0px;color:#000;font-weight:normal;font-family:'Liberation Sans','Noto Sans Thai Looped','Loma',sans-serif;left:280.79999999999995px;width:600px;text-align:center;">2</div>
<div class="t" style="top:544.33px;font-size:10px;line-height:13.0px;color:#000;font-weight:normal;font-family:'Liberation Sans','Noto Sans Thai Looped','Loma',sans-serif;left:356px;width:600px;text-align:center;">-</div>
<svg class="r" style="left:354.2px;top:535.8px" width="11.8" height="14.2" viewBox="0 0 11.8 14.2"><path d="M0 0 H6.2 L11.8 7.1 L6.2 14.2 H0Z" fill="#ffc000"/></svg>
<div class="t" style="top:538.34px;font-size:10.4px;line-height:13.52px;color:#000;font-weight:normal;font-family:'Liberation Sans','Noto Sans Thai Looped','Loma',sans-serif;left:370.8px;transform:scaleX(0.91);transform-origin:0 0;"><span style="font-size:12.3px">Farm Outlet</span></div>
<div class="t ns" style="top:550.13px;font-size:8.2px;line-height:10.66px;color:#404040;font-weight:normal;font-family:'Liberation Sans','Noto Sans Thai Looped','Loma',sans-serif;left:382.5px;transform:scaleX(0.95);transform-origin:0 0;">ข้อมูลล่าสุด ณ เดือนพฤษภาคม 2567</div>
<div class="r" style="left:544px;top:566.4px;width:71.5px;height:23.4px;background:#fff2cc;border-radius:4.5px;"></div>
<div class="r" style="left:620px;top:566.4px;width:72.5px;height:23.4px;background:#fff2cc;border-radius:4.5px;"></div>
<div class="t" style="top:571.93px;font-size:10px;line-height:13.0px;color:#000;font-weight:normal;font-family:'Liberation Sans','Noto Sans Thai Looped','Loma',sans-serif;left:280.79999999999995px;width:600px;text-align:center;">1</div>
<div class="t" style="top:573.43px;font-size:10px;line-height:13.0px;color:#000;font-weight:normal;font-family:'Liberation Sans','Noto Sans Thai Looped','Loma',sans-serif;left:356px;width:600px;text-align:center;">-</div>
<svg class="r" style="left:354.2px;top:563.7px" width="11.8" height="14.2" viewBox="0 0 11.8 14.2"><path d="M0 0 H6.2 L11.8 7.1 L6.2 14.2 H0Z" fill="#ffc000"/></svg>
<div class="t" style="top:564.34px;font-size:10.4px;line-height:13.52px;color:#000;font-weight:normal;font-family:'Liberation Sans','Noto Sans Thai Looped','Loma',sans-serif;left:370.8px;transform:scaleX(0.91);transform-origin:0 0;"><b>หมู่บ้านทำมาค้าขาย</b></div>
<div class="t ns" style="top:577.63px;font-size:8.2px;line-height:10.66px;color:#404040;font-weight:normal;font-family:'Liberation Sans','Noto Sans Thai Looped','Loma',sans-serif;left:382.5px;transform:scaleX(0.95);transform-origin:0 0;">ข้อมูลล่าสุด ณ เดือนพฤษภาคม 2567</div>
<div class="r" style="left:544px;top:594.4px;width:71.5px;height:23.4px;background:#fff2cc;border-radius:4.5px;"></div>
<div class="r" style="left:620px;top:594.4px;width:72.5px;height:23.4px;background:#fff2cc;border-radius:4.5px;"></div>
<div class="t" style="top:599.93px;font-size:10px;line-height:13.0px;color:#000;font-weight:normal;font-family:'Liberation Sans','Noto Sans Thai Looped','Loma',sans-serif;left:280.79999999999995px;width:600px;text-align:center;">-</div>
<div class="t" style="top:601.43px;font-size:10px;line-height:13.0px;color:#000;font-weight:normal;font-family:'Liberation Sans','Noto Sans Thai Looped','Loma',sans-serif;left:356px;width:600px;text-align:center;">-</div>
<svg class="r" style="left:354.2px;top:593.0px" width="11.8" height="14.2" viewBox="0 0 11.8 14.2"><path d="M0 0 H6.2 L11.8 7.1 L6.2 14.2 H0Z" fill="#ffc000"/></svg>
<div class="t" style="top:592.94px;font-size:10.4px;line-height:13.52px;color:#000;font-weight:normal;font-family:'Liberation Sans','Noto Sans Thai Looped','Loma',sans-serif;left:370.8px;transform:scaleX(0.91);transform-origin:0 0;"><b>ร้านอาหารธงฟ้าราคาประหยัด</b></div>
<div class="t ns" style="top:606.33px;font-size:8.2px;line-height:10.66px;color:#404040;font-weight:normal;font-family:'Liberation Sans','Noto Sans Thai Looped','Loma',sans-serif;left:381.7px;transform:scaleX(0.95);transform-origin:0 0;">ข้อมูลล่าสุด ณ เดือนพฤษภาคม 2567</div>
<div class="r" style="left:544px;top:622.5px;width:71.5px;height:23.1px;background:#fff2cc;border-radius:4.5px;"></div>
<div class="r" style="left:620px;top:622.5px;width:72.5px;height:23.1px;background:#fff2cc;border-radius:4.5px;"></div>
<div class="t" style="top:628.03px;font-size:10px;line-height:13.0px;color:#000;font-weight:normal;font-family:'Liberation Sans','Noto Sans Thai Looped','Loma',sans-serif;left:280.79999999999995px;width:600px;text-align:center;">8</div>
<div class="t" style="top:629.53px;font-size:10px;line-height:13.0px;color:#000;font-weight:normal;font-family:'Liberation Sans','Noto Sans Thai Looped','Loma',sans-serif;left:356px;width:600px;text-align:center;">-</div>
<svg class="r" style="left:354.2px;top:623.0px" width="11.8" height="14.2" viewBox="0 0 11.8 14.2"><path d="M0 0 H6.2 L11.8 7.1 L6.2 14.2 H0Z" fill="#ffc000"/></svg>
<div class="t" style="top:624.64px;font-size:10.4px;line-height:13.52px;color:#000;font-weight:normal;font-family:'Liberation Sans','Noto Sans Thai Looped','Loma',sans-serif;left:370.8px;transform:scaleX(0.91);transform-origin:0 0;"><b>ร้านธงฟ้า เพื่อพัฒนาเศรษฐกิจชุมชน</b></div>
<div class="t ns" style="top:636.53px;font-size:8.2px;line-height:10.66px;color:#404040;font-weight:normal;font-family:'Liberation Sans','Noto Sans Thai Looped','Loma',sans-serif;left:380.8px;transform:scaleX(0.95);transform-origin:0 0;">ข้อมูลล่าสุด ณ เดือนพฤษภาคม 2567</div>
<div class="r" style="left:544px;top:650.7px;width:71.5px;height:23.7px;background:#fff2cc;border-radius:4.5px;"></div>
<div class="r" style="left:620px;top:650.7px;width:72.5px;height:23.7px;background:#fff2cc;border-radius:4.5px;"></div>
<div class="t" style="top:656.24px;font-size:10px;line-height:13.0px;color:#000;font-weight:normal;font-family:'Liberation Sans','Noto Sans Thai Looped','Loma',sans-serif;left:280.79999999999995px;width:600px;text-align:center;">1</div>
<div class="t" style="top:657.74px;font-size:10px;line-height:13.0px;color:#000;font-weight:normal;font-family:'Liberation Sans','Noto Sans Thai Looped','Loma',sans-serif;left:356px;width:600px;text-align:center;">-</div>
<svg class="r" style="left:354.2px;top:650.8px" width="11.8" height="14.2" viewBox="0 0 11.8 14.2"><path d="M0 0 H6.2 L11.8 7.1 L6.2 14.2 H0Z" fill="#ffc000"/></svg>
<div class="t" style="top:651.14px;font-size:10.4px;line-height:13.52px;color:#000;font-weight:normal;font-family:'Liberation Sans','Noto Sans Thai Looped','Loma',sans-serif;left:370.8px;transform:scaleX(0.91);transform-origin:0 0;"><b>ธุรกิจไซโล และห้องเย็น</b></div>
<div class="t ns" style="top:663.53px;font-size:8.2px;line-height:10.66px;color:#404040;font-weight:normal;font-family:'Liberation Sans','Noto Sans Thai Looped','Loma',sans-serif;left:382.5px;transform:scaleX(0.95);transform-origin:0 0;">ข้อมูลล่าสุด ณ เดือนพฤษภาคม 2567</div>
<div class="r" style="left:544px;top:679.3px;width:71.5px;height:24.1px;background:#fff2cc;border-radius:4.5px;"></div>
<div class="r" style="left:620px;top:679.3px;width:72.5px;height:24.1px;background:#fff2cc;border-radius:4.5px;"></div>
<div class="t" style="top:684.83px;font-size:10px;line-height:13.0px;color:#000;font-weight:normal;font-family:'Liberation Sans','Noto Sans Thai Looped','Loma',sans-serif;left:280.79999999999995px;width:600px;text-align:center;">-</div>
<div class="t" style="top:686.33px;font-size:10px;line-height:13.0px;color:#000;font-weight:normal;font-family:'Liberation Sans','Noto Sans Thai Looped','Loma',sans-serif;left:356px;width:600px;text-align:center;">-</div>
<svg class="r" style="left:354.2px;top:678.0px" width="11.8" height="14.2" viewBox="0 0 11.8 14.2"><path d="M0 0 H6.2 L11.8 7.1 L6.2 14.2 H0Z" fill="#ffc000"/></svg>
<div class="t" style="top:678.84px;font-size:10.4px;line-height:13.52px;color:#000;font-weight:normal;font-family:'Liberation Sans','Noto Sans Thai Looped','Loma',sans-serif;left:370.8px;transform:scaleX(0.91);transform-origin:0 0;"><b>ธุรกิจคลังสินค้า</b></div>
<div class="t ns" style="top:691.03px;font-size:8.2px;line-height:10.66px;color:#404040;font-weight:normal;font-family:'Liberation Sans','Noto Sans Thai Looped','Loma',sans-serif;left:382.5px;transform:scaleX(0.95);transform-origin:0 0;">ข้อมูลล่าสุด ณ เดือนพฤษภาคม 2567</div>
<div class="r" style="left:13px;top:709.3px;width:314px;height:45.7px;background:#203864;border-radius:9px;"></div>
<div class="t ns" style="top:713.75px;font-size:14px;line-height:18.2px;color:#fff;font-weight:600;font-family:'Liberation Sans','Noto Sans Thai Looped','Loma',sans-serif;left:-130px;width:600px;text-align:center;">สินค้าเกษตรสำคัญ</div>
<div class="t ns" style="top:738.54px;font-size:10.5px;line-height:13.65px;color:#fff;font-weight:normal;font-family:'Liberation Sans','Noto Sans Thai Looped','Loma',sans-serif;left:-130px;width:600px;text-align:center;">TOP Agricultural Products</div>
<div class="r" style="left:17px;top:755.5px;width:306px;height:36px;background:#3a6aa5;border-radius:0px;"></div>
<div class="r" style="left:17px;top:790.5px;width:306px;height:1.2px;background:#2c5b9b;border-radius:0px;"></div>
<div class="t ns" style="top:754.85px;font-size:13.5px;line-height:17.55px;color:#fff;font-weight:600;font-family:'Liberation Sans','Noto Sans Thai Looped','Loma',sans-serif;left:-130px;width:600px;text-align:center;">จังหวัดผลิตสินค้าเกษตรชนิดใดมากที่สุด</div>
<div class="t ns" style="top:771.74px;font-size:10.6px;line-height:13.78px;color:#fff;font-weight:600;font-family:'Liberation Sans','Noto Sans Thai Looped','Loma',sans-serif;left:-129.5px;width:600px;text-align:center;">ปริมาณผลผลิตรายประเภท (ตัน, ตัว)</div>
<div class="r" style="left:177px;top:800.6px;width:0.8px;height:132px;background:#e6e6e6;border-radius:0px;"></div>
<div class="r" style="left:236px;top:800.6px;width:0.8px;height:132px;background:#e6e6e6;border-radius:0px;"></div>
<div class="r" style="left:295px;top:800.6px;width:0.8px;height:132px;background:#e6e6e6;border-radius:0px;"></div>
<div class="r" style="left:310.6px;top:800.6px;width:7px;height:132.4px;background:#f0f0f0;border-radius:0px;"></div>
<div class="r" style="left:310.6px;top:800.6px;width:7px;height:15.5px;background:#c1c1c1;border-radius:0px;"></div>
<div class="t ns" style="top:805.83px;font-size:10px;line-height:13.0px;color:#666;font-weight:normal;font-family:'Liberation Sans','Noto Sans Thai Looped','Loma',sans-serif;right:550.6px;text-align:right;">ไก่รุ่นพันธุ์เนื้อ ฟาร์มอิสระ</div>
<div class="r" style="left:177px;top:807.0px;width:120.5px;height:10.6px;background:#a5643a;border-radius:0px;"></div>
<div class="t ns" style="top:807.33px;font-size:8px;line-height:10.4px;color:#fff;font-weight:bold;font-family:'Liberation Sans','Noto Sans Thai Looped','Loma',sans-serif;right:429.7px;text-align:right;">20,418.65พัน</div>
<div class="t ns" style="top:821.23px;font-size:10px;line-height:13.0px;color:#666;font-weight:normal;font-family:'Liberation Sans','Noto Sans Thai Looped','Loma',sans-serif;right:550.6px;text-align:right;">เป็ดรุ่น ขนาดกลาง</div>
<div class="r" style="left:177px;top:822.4px;width:6px;height:10.6px;background:#a5643a;border-radius:0px;"></div>
<div class="t ns" style="top:822.63px;font-size:8.1px;line-height:10.53px;color:#666;font-weight:normal;font-family:'Liberation Sans','Noto Sans Thai Looped','Loma',sans-serif;left:188.8px;">913.77พัน</div>
<div class="t ns" style="top:836.63px;font-size:10px;line-height:13.0px;color:#666;font-weight:normal;font-family:'Liberation Sans','Noto Sans Thai Looped','Loma',sans-serif;right:550.6px;text-align:right;">ข้าวเปลือกเจ้านาปี ความชื้น 15%</div>
<div class="r" style="left:177px;top:837.8px;width:1.3px;height:10.6px;background:#3cb883;border-radius:0px;"></div>
<div class="t ns" style="top:838.03px;font-size:8.1px;line-height:10.53px;color:#666;font-weight:normal;font-family:'Liberation Sans','Noto Sans Thai Looped','Loma',sans-serif;left:184.8px;">197.10พัน</div>
<div class="t ns" style="top:852.03px;font-size:10px;line-height:13.0px;color:#666;font-weight:normal;font-family:'Liberation Sans','Noto Sans Thai Looped','Loma',sans-serif;right:550.6px;text-align:right;">สุกรมีชีวิต น้ำหนักเกิน 100 กก</div>
<div class="r" style="left:177px;top:853.2px;width:1.3px;height:10.6px;background:#c89a80;border-radius:0px;"></div>
<div class="t ns" style="top:853.43px;font-size:8.1px;line-height:10.53px;color:#666;font-weight:normal;font-family:'Liberation Sans','Noto Sans Thai Looped','Loma',sans-serif;left:184.8px;">167.67พัน</div>
<div class="t ns" style="top:867.43px;font-size:10px;line-height:13.0px;color:#666;font-weight:normal;font-family:'Liberation Sans','Noto Sans Thai Looped','Loma',sans-serif;right:550.6px;text-align:right;">มันสำปะหลังสด คละ</div>
<div class="r" style="left:177px;top:868.6px;width:1.3px;height:10.6px;background:#3cb883;border-radius:0px;"></div>
<div class="t ns" style="top:868.83px;font-size:8.1px;line-height:10.53px;color:#666;font-weight:normal;font-family:'Liberation Sans','Noto Sans Thai Looped','Loma',sans-serif;left:184.8px;">159.98พัน</div>
<div class="t ns" style="top:882.83px;font-size:10px;line-height:13.0px;color:#666;font-weight:normal;font-family:'Liberation Sans','Noto Sans Thai Looped','Loma',sans-serif;right:550.6px;text-align:right;">โคนม</div>
<div class="r" style="left:177px;top:884.0px;width:1.3px;height:10.6px;background:#c89a80;border-radius:0px;"></div>
<div class="t ns" style="top:884.23px;font-size:8.1px;line-height:10.53px;color:#666;font-weight:normal;font-family:'Liberation Sans','Noto Sans Thai Looped','Loma',sans-serif;left:184.8px;">158.81พัน</div>
<div class="t ns" style="top:898.23px;font-size:10px;line-height:13.0px;color:#666;font-weight:normal;font-family:'Liberation Sans','Noto Sans Thai Looped','Loma',sans-serif;right:550.6px;text-align:right;">ข้าวโพดเลี้ยงสัตว์เมล็ด ความชื้น ...</div>
<div class="r" style="left:177px;top:899.4px;width:1.3px;height:10.6px;background:#9fdcc0;border-radius:0px;"></div>
<div class="t ns" style="top:899.63px;font-size:8.1px;line-height:10.53px;color:#666;font-weight:normal;font-family:'Liberation Sans','Noto Sans Thai Looped','Loma',sans-serif;left:184.8px;">126.67พัน</div>
<div class="t ns" style="top:913.63px;font-size:10px;line-height:13.0px;color:#666;font-weight:normal;font-family:'Liberation Sans','Noto Sans Thai Looped','Loma',sans-serif;right:550.6px;text-align:right;">โคขุน ขนาดกลาง</div>
<div class="r" style="left:177px;top:914.8px;width:1.3px;height:10.6px;background:#e2c8b8;border-radius:0px;"></div>
<div class="t ns" style="top:915.03px;font-size:8.1px;line-height:10.53px;color:#666;font-weight:normal;font-family:'Liberation Sans','Noto Sans Thai Looped','Loma',sans-serif;left:184.8px;">30.29พัน</div>
<div class="t ns" style="top:935.23px;font-size:9.5px;line-height:12.35px;color:#666;font-weight:normal;font-family:'Liberation Sans','Noto Sans Thai Looped','Loma',sans-serif;left:-123px;width:600px;text-align:center;">0ล้าน</div>
<div class="t ns" style="top:935.23px;font-size:9.5px;line-height:12.35px;color:#666;font-weight:normal;font-family:'Liberation Sans','Noto Sans Thai Looped','Loma',sans-serif;left:-64px;width:600px;text-align:center;">10ล้าน</div>
<div class="t ns" style="top:935.23px;font-size:9.5px;line-height:12.35px;color:#666;font-weight:normal;font-family:'Liberation Sans','Noto Sans Thai Looped','Loma',sans-serif;left:-5px;width:600px;text-align:center;">20ล้าน</div>
<div class="t ns" style="top:953.74px;font-size:11.3px;line-height:14.69px;color:#000;font-weight:normal;font-family:'Liberation Sans','Noto Sans Thai Looped','Loma',sans-serif;left:20.4px;">ที่มา : เกษตร(ตัน)-สศก., ปศุสัตว์(ตัว)-กรมปศุสัตว์,</div>
<div class="t ns" style="top:965.24px;font-size:11.3px;line-height:14.69px;color:#000;font-weight:normal;font-family:'Liberation Sans','Noto Sans Thai Looped','Loma',sans-serif;left:20.4px;">ประมง(ตัน)-กรมประมง</div>
<div class="r" style="left:342px;top:709.3px;width:358px;height:45.5px;background:#203864;border-radius:9px;"></div>
<div class="t ns" style="top:715.35px;font-size:14px;line-height:18.2px;color:#fff;font-weight:600;font-family:'Liberation Sans','Noto Sans Thai Looped','Loma',sans-serif;left:232px;width:600px;text-align:center;">สินค้าอัตลักษณ์</div>
<div class="t ns" style="top:738.84px;font-size:10.6px;line-height:13.78px;color:#fff;font-weight:normal;font-family:'Liberation Sans','Noto Sans Thai Looped','Loma',sans-serif;left:232px;width:600px;text-align:center;">TOP Identity Goods</div>
<div class="r" style="left:344.2px;top:781.7px;width:357.3px;height:199.3px;background:#f2f2f2;border-radius:6px;"></div>
<div class="r" style="left:366.5px;top:773.8px;width:325.3px;height:23.7px;background:#fff;border-radius:5px;box-shadow:0 4px 3px -2px rgba(0,0,0,0.5);"></div>
<div class="r" style="left:355px;top:766.3px;width:18.5px;height:18px;background:#203864;border-radius:3.5px;"></div>
<div class="t ns" style="top:769.63px;font-size:9px;line-height:11.7px;color:#fff;font-weight:bold;font-family:'Liberation Sans','Noto Sans Thai Looped','Loma',sans-serif;left:64.19999999999999px;width:600px;text-align:center;font-style:italic;">1</div>
<div class="t" style="top:779.04px;font-size:11px;line-height:14.3px;color:#000;font-weight:normal;font-family:'Liberation Sans','Noto Sans Thai Looped','Loma',sans-serif;left:388.5px;">กะหรี่ปั๊บ</div>
<div class="r" style="left:366.5px;top:813px;width:325.3px;height:23.7px;background:#fff;border-radius:5px;box-shadow:0 4px 3px -2px rgba(0,0,0,0.5);"></div>
<div class="r" style="left:355px;top:805.3px;width:18.5px;height:18px;background:#203864;border-radius:3.5px;"></div>
<div class="t ns" style="top:808.63px;font-size:9px;line-height:11.7px;color:#fff;font-weight:bold;font-family:'Liberation Sans','Noto Sans Thai Looped','Loma',sans-serif;left:64.19999999999999px;width:600px;text-align:center;font-style:italic;">2</div>
<div class="t" style="top:817.34px;font-size:11px;line-height:14.3px;color:#000;font-weight:normal;font-family:'Liberation Sans','Noto Sans Thai Looped','Loma',sans-serif;left:388.5px;">นม</div>
<div class="r" style="left:366.5px;top:850px;width:325.3px;height:23.7px;background:#fff;border-radius:5px;box-shadow:0 4px 3px -2px rgba(0,0,0,0.5);"></div>
<div class="r" style="left:355px;top:842.5px;width:18.5px;height:18px;background:#203864;border-radius:3.5px;"></div>
<div class="t ns" style="top:845.83px;font-size:9px;line-height:11.7px;color:#fff;font-weight:bold;font-family:'Liberation Sans','Noto Sans Thai Looped','Loma',sans-serif;left:64.19999999999999px;width:600px;text-align:center;font-style:italic;">3</div>
<div class="t" style="top:854.34px;font-size:11px;line-height:14.3px;color:#000;font-weight:normal;font-family:'Liberation Sans','Noto Sans Thai Looped','Loma',sans-serif;left:388.5px;">เผือกหอมทอดกรอบ</div>
<div class="r" style="left:366.5px;top:888.7px;width:325.3px;height:23.7px;background:#fff;border-radius:5px;box-shadow:0 4px 3px -2px rgba(0,0,0,0.5);"></div>
<div class="r" style="left:355px;top:881.3px;width:18.5px;height:18px;background:#203864;border-radius:3.5px;"></div>
<div class="t ns" style="top:884.63px;font-size:9px;line-height:11.7px;color:#fff;font-weight:bold;font-family:'Liberation Sans','Noto Sans Thai Looped','Loma',sans-serif;left:64.19999999999999px;width:600px;text-align:center;font-style:italic;">4</div>
<div class="t" style="top:893.74px;font-size:11px;line-height:14.3px;color:#000;font-weight:normal;font-family:'Liberation Sans','Noto Sans Thai Looped','Loma',sans-serif;left:388.5px;">ผลิตภัณฑ์จากหินอ่อน</div>
<div class="r" style="left:366.5px;top:927px;width:325.3px;height:23.7px;background:#fff;border-radius:5px;box-shadow:0 4px 3px -2px rgba(0,0,0,0.5);"></div>
<div class="r" style="left:355px;top:920px;width:18.5px;height:18px;background:#203864;border-radius:3.5px;"></div>
<div class="t ns" style="top:923.33px;font-size:9px;line-height:11.7px;color:#fff;font-weight:bold;font-family:'Liberation Sans','Noto Sans Thai Looped','Loma',sans-serif;left:64.19999999999999px;width:600px;text-align:center;font-style:italic;">5</div>
<div class="t" style="top:932.34px;font-size:11px;line-height:14.3px;color:#000;font-weight:normal;font-family:'Liberation Sans','Noto Sans Thai Looped','Loma',sans-serif;left:388.5px;">สปูรังไหม</div>
<svg class="r" style="left:18px;top:994px" width="74" height="28" viewBox="0 0 74 28">
<text x="0.8" y="20.6" font-family="Liberation Sans" font-weight="bold" font-size="26.5" fill="#2aa6df" textLength="43" lengthAdjust="spacingAndGlyphs" stroke="#2aa6df" stroke-width="0.9">TPS</text>
<circle cx="62" cy="10.8" r="9.9" fill="#2aa6df"/>
<path d="M69.5 3.5 Q66 12 58 17.5 Q55 19.5 52 19.8 Q60 13 64 5.5 Z" fill="#fff"/>
<path d="M40.5 8.2 L69.8 3.6 Q63 9.6 53 11.5 Q46 12.2 40.5 8.2Z" fill="#e9b526"/>
<text x="1" y="26.6" font-family="Liberation Sans" font-size="4.3" fill="#2aa6df" font-weight="bold" textLength="70.5" lengthAdjust="spacingAndGlyphs">Trade Policy and Strategy Office</text>
</svg>
<svg class="r" style="left:98.6px;top:995.4px" width="25.6" height="25.6" viewBox="0 0 80 80">
<circle cx="40" cy="40" r="39.5" fill="#d9a21f"/>
<circle cx="40" cy="40" r="34" fill="#2d3a96"/>
<g fill="#e4ad2a"><path d="M34 10 q8 -2 10 8 l2 14 l-4 10 l-10 0 l-3 -14z"/><path d="M12 42 q4 16 18 22 l20 0 q14 -6 18 -22 q-4 10 -14 12 l-26 0 q-10 -2 -16 -12z"/><rect x="28" y="66" width="24" height="5"/></g>
</svg>
<div class="t ns" style="top:991.39px;font-size:12.15px;line-height:15.8px;color:#000;font-weight:normal;font-family:'Liberation Sans','Noto Sans Thai Looped','Loma',sans-serif;left:135.7px;letter-spacing:0.1px;">สำนักนโยบายและยุทธศาสตร์การค้า</div>
<div class="t ns" style="top:1013.04px;font-size:12px;line-height:15.6px;color:#000;font-weight:normal;font-family:'Liberation Sans','Noto Sans Thai Looped','Loma',sans-serif;left:135.7px;letter-spacing:0.6px;">และกองบริหารพาณิชย์ภูมิภาค สำนักงานปลัดกระทรวงพาณิชย์</div>
<div class="t ns" style="top:992.53px;font-size:10px;line-height:13.0px;color:#2e6cb3;font-weight:normal;font-family:'Liberation Sans','Noto Sans Thai Looped','Loma',sans-serif;left:589px;font-weight:600;">ชี้เป้าการค้า</div>
<div class="t ns" style="top:1002.43px;font-size:10px;line-height:13.0px;color:#2e6cb3;font-weight:normal;font-family:'Liberation Sans','Noto Sans Thai Looped','Loma',sans-serif;left:589px;font-weight:600;">คว้าโอกาสธุรกิจ</div>
<svg class="r" style="left:588.5px;top:1016.6px" width="60" height="14" viewBox="0 0 60 14">
<defs><linearGradient id="kg" x1="0" y1="0" x2="0" y2="1"><stop offset="0" stop-color="#2a65a8"/><stop offset="1" stop-color="#163f78"/></linearGradient></defs>
<path d="M6.5 0.3 H51 Q54 0.3 55.5 3 L59.6 7 L55.5 11 Q54 13.7 51 13.7 H6.5 A6.7 6.7 0 0 1 6.5 0.3Z" fill="url(#kg)"/>
<circle cx="7.2" cy="7" r="3.8" fill="none" stroke="#fff" stroke-width="0.9"/><path d="M7.2 4.6 V9.4 M5.6 6.4 Q7.2 5 8.8 6.4" stroke="#fff" stroke-width="0.8" fill="none"/>
</svg>
<div class="t ns" style="top:1017.83px;font-size:9.5px;line-height:12.35px;color:#fff;font-weight:bold;font-family:'Liberation Sans','Noto Sans Thai Looped','Loma',sans-serif;left:602px;">คิดค้า<span style="font-size:6.5px">.com</span></div>
<svg class="r" style="left:659.4px;top:992.6px" width="39" height="39" viewBox="0 0 39 39"><g fill="#000"><rect x="0.00" y="0.00" width="1.61" height="1.61"/><rect x="1.56" y="0.00" width="1.61" height="1.61"/><rect x="3.12" y="0.00" width="1.61" height="1.61"/><rect x="4.68" y="0.00" width="1.61" height="1.61"/><rect x="6.24" y="0.00" width="1.61" height="1.61"/><rect x="7.80" y="0.00" width="1.61" height="1.61"/><rect x="9.36" y="0.00" width="1.61" height="1.61"/><rect x="12.48" y="0.00" width="1.61" height="1.61"/><rect x="14.04" y="0.00" width="1.61" height="1.61"/><rect x="15.60" y="0.00" width="1.61" height="1.61"/><rect x="17.16" y="0.00" width="1.61" height="1.61"/><rect x="18.72" y="0.00" width="1.61" height="1.61"/><rect x="21.84" y="0.00" width="1.61" height="1.61"/><rect x="23.40" y="0.00" width="1.61" height="1.61"/><rect x="28.08" y="0.00" width="1.61" height="1.61"/><rect x="29.64" y="0.00" width="1.61" height="1.61"/><rect x="31.20" y="0.00" width="1.61" height="1.61"/><rect x="32.76" y="0.00" width="1.61" height="1.61"/><rect x="34.32" y="0.00" width="1.61" height="1.61"/><rect x="35.88" y="0.00" width="1.61" height="1.61"/><rect x="37.44" y="0.00" width="1.61" height="1.61"/><rect x="0.00" y="1.56" width="1.61" height="1.61"/><rect x="9.36" y="1.56" width="1.61" height="1.61"/><rect x="12.48" y="1.56" width="1.61" height="1.61"/><rect x="14.04" y="1.56" width="1.61" height="1.61"/><rect x="15.60" y="1.56" width="1.61" height="1.61"/><rect x="18.72" y="1.56" width="1.61" height="1.61"/><rect x="20.28" y="1.56" width="1.61" height="1.61"/><rect x="23.40" y="1.56" width="1.61" height="1.61"/><rect x="24.96" y="1.56" width="1.61" height="1.61"/><rect x="28.08" y="1.56" width="1.61" height="1.61"/><rect x="37.44" y="1.56" width="1.61" height="1.61"/><rect x="0.00" y="3.12" width="1.61" height="1.61"/><rect x="3.12" y="3.12" width="1.61" height="1.61"/><rect x="4.68" y="3.12" width="1.61" height="1.61"/><rect x="6.24" y="3.12" width="1.61" height="1.61"/><rect x="9.36" y="3.12" width="1.61" height="1.61"/><rect x="17.16" y="3.12" width="1.61" height="1.61"/><rect x="23.40" y="3.12" width="1.61" height="1.61"/><rect x="28.08" y="3.12" width="1.61" height="1.61"/><rect x="31.20" y="3.12" width="1.61" height="1.61"/><rect x="32.76" y="3.12" width="1.61" height="1.61"/><rect x="34.32" y="3.12" width="1.61" height="1.61"/><rect x="37.44" y="3.12" width="1.61" height="1.61"/><rect x="0.00" y="4.68" width="1.61" height="1.61"/><rect x="3.12" y="4.68" width="1.61" height="1.61"/><rect x="4.68" y="4.68" width="1.61" height="1.61"/><rect x="6.24" y="4.68" width="1.61" height="1.61"/><rect x="9.36" y="4.68" width="1.61" height="1.61"/><rect x="14.04" y="4.68" width="1.61" height="1.61"/><rect x="15.60" y="4.68" width="1.61" height="1.61"/><rect x="17.16" y="4.68" width="1.61" height="1.61"/><rect x="20.28" y="4.68" width="1.61" height="1.61"/><rect x="21.84" y="4.68" width="1.61" height="1.61"/><rect x="28.08" y="4.68" width="1.61" height="1.61"/><rect x="31.20" y="4.68" width="1.61" height="1.61"/><rect x="32.76" y="4.68" width="1.61" height="1.61"/><rect x="34.32" y="4.68" width="1.61" height="1.61"/><rect x="37.44" y="4.68" width="1.61" height="1.61"/><rect x="0.00" y="6.24" width="1.61" height="1.61"/><rect x="3.12" y="6.24" width="1.61" height="1.61"/><rect x="4.68" y="6.24" width="1.61" height="1.61"/><rect x="6.24" y="6.24" width="1.61" height="1.61"/><rect x="9.36" y="6.24" width="1.61" height="1.61"/><rect x="12.48" y="6.24" width="1.61" height="1.61"/><rect x="23.40" y="6.24" width="1.61" height="1.61"/><rect x="28.08" y="6.24" width="1.61" height="1.61"/><rect x="31.20" y="6.24" width="1.61" height="1.61"/><rect x="32.76" y="6.24" width="1.61" height="1.61"/><rect x="34.32" y="6.24" width="1.61" height="1.61"/><rect x="37.44" y="6.24" width="1.61" height="1.61"/><rect x="0.00" y="7.80" width="1.61" height="1.61"/><rect x="9.36" y="7.80" width="1.61" height="1.61"/><rect x="12.48" y="7.80" width="1.61" height="1.61"/><rect x="14.04" y="7.80" width="1.61" height="1.61"/><rect x="18.72" y="7.80" width="1.61" height="1.61"/><rect x="20.28" y="7.80" width="1.61" height="1.61"/><rect x="21.84" y="7.80" width="1.61" height="1.61"/><rect x="23.40" y="7.80" width="1.61" height="1.61"/><rect x="24.96" y="7.80" width="1.61" height="1.61"/><rect x="28.08" y="7.80" width="1.61" height="1.61"/><rect x="37.44" y="7.80" width="1.61" height="1.61"/><rect x="0.00" y="9.36" width="1.61" height="1.61"/><rect x="1.56" y="9.36" width="1.61" height="1.61"/><rect x="3.12" y="9.36" width="1.61" height="1.61"/><rect x="4.68" y="9.36" width="1.61" height="1.61"/><rect x="6.24" y="9.36" width="1.61" height="1.61"/><rect x="7.80" y="9.36" width="1.61" height="1.61"/><rect x="9.36" y="9.36" width="1.61" height="1.61"/><rect x="18.72" y="9.36" width="1.61" height="1.61"/><rect x="20.28" y="9.36" width="1.61" height="1.61"/><rect x="21.84" y="9.36" width="1.61" height="1.61"/><rect x="28.08" y="9.36" width="1.61" height="1.61"/><rect x="29.64" y="9.36" width="1.61" height="1.61"/><rect x="31.20" y="9.36" width="1.61" height="1.61"/><rect x="32.76" y="9.36" width="1.61" height="1.61"/><rect x="34.32" y="9.36" width="1.61" height="1.61"/><rect x="35.88" y="9.36" width="1.61" height="1.61"/><rect x="37.44" y="9.36" width="1.61" height="1.61"/><rect x="15.60" y="10.92" width="1.61" height="1.61"/><rect x="21.84" y="10.92" width="1.61" height="1.61"/><rect x="23.40" y="10.92" width="1.61" height="1.61"/><rect x="24.96" y="10.92" width="1.61" height="1.61"/><rect x="0.00" y="12.48" width="1.61" height="1.61"/><rect x="7.80" y="12.48" width="1.61" height="1.61"/><rect x="9.36" y="12.48" width="1.61" height="1.61"/><rect x="12.48" y="12.48" width="1.61" height="1.61"/><rect x="17.16" y="12.48" width="1.61" height="1.61"/><rect x="18.72" y="12.48" width="1.61" height="1.61"/><rect x="23.40" y="12.48" width="1.61" height="1.61"/><rect x="24.96" y="12.48" width="1.61" height="1.61"/><rect x="26.52" y="12.48" width="1.61" height="1.61"/><rect x="31.20" y="12.48" width="1.61" height="1.61"/><rect x="37.44" y="12.48" width="1.61" height="1.61"/><rect x="1.56" y="14.04" width="1.61" height="1.61"/><rect x="3.12" y="14.04" width="1.61" height="1.61"/><rect x="10.92" y="14.04" width="1.61" height="1.61"/><rect x="15.60" y="14.04" width="1.61" height="1.61"/><rect x="17.16" y="14.04" width="1.61" height="1.61"/><rect x="18.72" y="14.04" width="1.61" height="1.61"/><rect x="20.28" y="14.04" width="1.61" height="1.61"/><rect x="23.40" y="14.04" width="1.61" height="1.61"/><rect x="24.96" y="14.04" width="1.61" height="1.61"/><rect x="26.52" y="14.04" width="1.61" height="1.61"/><rect x="29.64" y="14.04" width="1.61" height="1.61"/><rect x="31.20" y="14.04" width="1.61" height="1.61"/><rect x="35.88" y="14.04" width="1.61" height="1.61"/><rect x="4.68" y="15.60" width="1.61" height="1.61"/><rect x="6.24" y="15.60" width="1.61" height="1.61"/><rect x="7.80" y="15.60" width="1.61" height="1.61"/><rect x="9.36" y="15.60" width="1.61" height="1.61"/><rect x="12.48" y="15.60" width="1.61" height="1.61"/><rect x="14.04" y="15.60" width="1.61" height="1.61"/><rect x="18.72" y="15.60" width="1.61" height="1.61"/><rect x="24.96" y="15.60" width="1.61" height="1.61"/><rect x="28.08" y="15.60" width="1.61" height="1.61"/><rect x="29.64" y="15.60" width="1.61" height="1.61"/><rect x="0.00" y="17.16" width="1.61" height="1.61"/><rect x="7.80" y="17.16" width="1.61" height="1.61"/><rect x="10.92" y="17.16" width="1.61" height="1.61"/><rect x="18.72" y="17.16" width="1.61" height="1.61"/><rect x="24.96" y="17.16" width="1.61" height="1.61"/><rect x="26.52" y="17.16" width="1.61" height="1.61"/><rect x="28.08" y="17.16" width="1.61" height="1.61"/><rect x="29.64" y="17.16" width="1.61" height="1.61"/><rect x="31.20" y="17.16" width="1.61" height="1.61"/><rect x="32.76" y="17.16" width="1.61" height="1.61"/><rect x="0.00" y="18.72" width="1.61" height="1.61"/><rect x="4.68" y="18.72" width="1.61" height="1.61"/><rect x="9.36" y="18.72" width="1.61" height="1.61"/><rect x="12.48" y="18.72" width="1.61" height="1.61"/><rect x="14.04" y="18.72" width="1.61" height="1.61"/><rect x="18.72" y="18.72" width="1.61" height="1.61"/><rect x="20.28" y="18.72" width="1.61" height="1.61"/><rect x="23.40" y="18.72" width="1.61" height="1.61"/><rect x="24.96" y="18.72" width="1.61" height="1.61"/><rect x="26.52" y="18.72" width="1.61" height="1.61"/><rect x="29.64" y="18.72" width="1.61" height="1.61"/><rect x="32.76" y="18.72" width="1.61" height="1.61"/><rect x="34.32" y="18.72" width="1.61" height="1.61"/><rect x="35.88" y="18.72" width="1.61" height="1.61"/><rect x="1.56" y="20.28" width="1.61" height="1.61"/><rect x="7.80" y="20.28" width="1.61" height="1.61"/><rect x="9.36" y="20.28" width="1.61" height="1.61"/><rect x="10.92" y="20.28" width="1.61" height="1.61"/><rect x="14.04" y="20.28" width="1.61" height="1.61"/><rect x="15.60" y="20.28" width="1.61" height="1.61"/><rect x="17.16" y="20.28" width="1.61" height="1.61"/><rect x="21.84" y="20.28" width="1.61" height="1.61"/><rect x="23.40" y="20.28" width="1.61" height="1.61"/><rect x="29.64" y="20.28" width="1.61" height="1.61"/><rect x="31.20" y="20.28" width="1.61" height="1.61"/><rect x="34.32" y="20.28" width="1.61" height="1.61"/><rect x="35.88" y="20.28" width="1.61" height="1.61"/><rect x="3.12" y="21.84" width="1.61" height="1.61"/><rect x="6.24" y="21.84" width="1.61" height="1.61"/><rect x="9.36" y="21.84" width="1.61" height="1.61"/><rect x="10.92" y="21.84" width="1.61" height="1.61"/><rect x="15.60" y="21.84" width="1.61" height="1.61"/><rect x="17.16" y="21.84" width="1.61" height="1.61"/><rect x="20.28" y="21.84" width="1.61" height="1.61"/><rect x="21.84" y="21.84" width="1.61" height="1.61"/><rect x="23.40" y="21.84" width="1.61" height="1.61"/><rect x="24.96" y="21.84" width="1.61" height="1.61"/><rect x="26.52" y="21.84" width="1.61" height="1.61"/><rect x="28.08" y="21.84" width="1.61" height="1.61"/><rect x="29.64" y="21.84" width="1.61" height="1.61"/><rect x="32.76" y="21.84" width="1.61" height="1.61"/><rect x="35.88" y="21.84" width="1.61" height="1.61"/><rect x="37.44" y="21.84" width="1.61" height="1.61"/><rect x="0.00" y="23.40" width="1.61" height="1.61"/><rect x="1.56" y="23.40" width="1.61" height="1.61"/><rect x="3.12" y="23.40" width="1.61" height="1.61"/><rect x="7.80" y="23.40" width="1.61" height="1.61"/><rect x="9.36" y="23.40" width="1.61" height="1.61"/><rect x="12.48" y="23.40" width="1.61" height="1.61"/><rect x="15.60" y="23.40" width="1.61" height="1.61"/><rect x="17.16" y="23.40" width="1.61" height="1.61"/><rect x="20.28" y="23.40" width="1.61" height="1.61"/><rect x="26.52" y="23.40" width="1.61" height="1.61"/><rect x="32.76" y="23.40" width="1.61" height="1.61"/><rect x="34.32" y="23.40" width="1.61" height="1.61"/><rect x="35.88" y="23.40" width="1.61" height="1.61"/><rect x="37.44" y="23.40" width="1.61" height="1.61"/><rect x="0.00" y="24.96" width="1.61" height="1.61"/><rect x="3.12" y="24.96" width="1.61" height="1.61"/><rect x="4.68" y="24.96" width="1.61" height="1.61"/><rect x="6.24" y="24.96" width="1.61" height="1.61"/><rect x="12.48" y="24.96" width="1.61" height="1.61"/><rect x="14.04" y="24.96" width="1.61" height="1.61"/><rect x="15.60" y="24.96" width="1.61" height="1.61"/><rect x="17.16" y="24.96" width="1.61" height="1.61"/><rect x="18.72" y="24.96" width="1.61" height="1.61"/><rect x="20.28" y="24.96" width="1.61" height="1.61"/><rect x="21.84" y="24.96" width="1.61" height="1.61"/><rect x="28.08" y="24.96" width="1.61" height="1.61"/><rect x="31.20" y="24.96" width="1.61" height="1.61"/><rect x="32.76" y="24.96" width="1.61" height="1.61"/><rect x="34.32" y="24.96" width="1.61" height="1.61"/><rect x="35.88" y="24.96" width="1.61" height="1.61"/><rect x="37.44" y="24.96" width="1.61" height="1.61"/><rect x="12.48" y="26.52" width="1.61" height="1.61"/><rect x="14.04" y="26.52" width="1.61" height="1.61"/><rect x="15.60" y="26.52" width="1.61" height="1.61"/><rect x="26.52" y="26.52" width="1.61" height="1.61"/><rect x="28.08" y="26.52" width="1.61" height="1.61"/><rect x="31.20" y="26.52" width="1.61" height="1.61"/><rect x="35.88" y="26.52" width="1.61" height="1.61"/><rect x="0.00" y="28.08" width="1.61" height="1.61"/><rect x="1.56" y="28.08" width="1.61" height="1.61"/><rect x="3.12" y="28.08" width="1.61" height="1.61"/><rect x="4.68" y="28.08" width="1.61" height="1.61"/><rect x="6.24" y="28.08" width="1.61" height="1.61"/><rect x="7.80" y="28.08" width="1.61" height="1.61"/><rect x="9.36" y="28.08" width="1.61" height="1.61"/><rect x="21.84" y="28.08" width="1.61" height="1.61"/><rect x="23.40" y="28.08" width="1.61" height="1.61"/><rect x="24.96" y="28.08" width="1.61" height="1.61"/><rect x="26.52" y="28.08" width="1.61" height="1.61"/><rect x="28.08" y="28.08" width="1.61" height="1.61"/><rect x="37.44" y="28.08" width="1.61" height="1.61"/><rect x="0.00" y="29.64" width="1.61" height="1.61"/><rect x="9.36" y="29.64" width="1.61" height="1.61"/><rect x="12.48" y="29.64" width="1.61" height="1.61"/><rect x="14.04" y="29.64" width="1.61" height="1.61"/><rect x="15.60" y="29.64" width="1.61" height="1.61"/><rect x="18.72" y="29.64" width="1.61" height="1.61"/><rect x="23.40" y="29.64" width="1.61" height="1.61"/><rect x="24.96" y="29.64" width="1.61" height="1.61"/><rect x="26.52" y="29.64" width="1.61" height="1.61"/><rect x="34.32" y="29.64" width="1.61" height="1.61"/><rect x="35.88" y="29.64" width="1.61" height="1.61"/><rect x="37.44" y="29.64" width="1.61" height="1.61"/><rect x="0.00" y="31.20" width="1.61" height="1.61"/><rect x="3.12" y="31.20" width="1.61" height="1.61"/><rect x="4.68" y="31.20" width="1.61" height="1.61"/><rect x="6.24" y="31.20" width="1.61" height="1.61"/><rect x="9.36" y="31.20" width="1.61" height="1.61"/><rect x="14.04" y="31.20" width="1.61" height="1.61"/><rect x="17.16" y="31.20" width="1.61" height="1.61"/><rect x="18.72" y="31.20" width="1.61" height="1.61"/><rect x="20.28" y="31.20" width="1.61" height="1.61"/><rect x="23.40" y="31.20" width="1.61" height="1.61"/><rect x="28.08" y="31.20" width="1.61" height="1.61"/><rect x="29.64" y="31.20" width="1.61" height="1.61"/><rect x="34.32" y="31.20" width="1.61" height="1.61"/><rect x="35.88" y="31.20" width="1.61" height="1.61"/><rect x="37.44" y="31.20" width="1.61" height="1.61"/><rect x="0.00" y="32.76" width="1.61" height="1.61"/><rect x="3.12" y="32.76" width="1.61" height="1.61"/><rect x="4.68" y="32.76" width="1.61" height="1.61"/><rect x="6.24" y="32.76" width="1.61" height="1.61"/><rect x="9.36" y="32.76" width="1.61" height="1.61"/><rect x="17.16" y="32.76" width="1.61" height="1.61"/><rect x="20.28" y="32.76" width="1.61" height="1.61"/><rect x="21.84" y="32.76" width="1.61" height="1.61"/><rect x="23.40" y="32.76" width="1.61" height="1.61"/><rect x="24.96" y="32.76" width="1.61" height="1.61"/><rect x="26.52" y="32.76" width="1.61" height="1.61"/><rect x="28.08" y="32.76" width="1.61" height="1.61"/><rect x="29.64" y="32.76" width="1.61" height="1.61"/><rect x="31.20" y="32.76" width="1.61" height="1.61"/><rect x="32.76" y="32.76" width="1.61" height="1.61"/><rect x="35.88" y="32.76" width="1.61" height="1.61"/><rect x="0.00" y="34.32" width="1.61" height="1.61"/><rect x="3.12" y="34.32" width="1.61" height="1.61"/><rect x="4.68" y="34.32" width="1.61" height="1.61"/><rect x="6.24" y="34.32" width="1.61" height="1.61"/><rect x="9.36" y="34.32" width="1.61" height="1.61"/><rect x="15.60" y="34.32" width="1.61" height="1.61"/><rect x="17.16" y="34.32" width="1.61" height="1.61"/><rect x="18.72" y="34.32" width="1.61" height="1.61"/><rect x="20.28" y="34.32" width="1.61" height="1.61"/><rect x="21.84" y="34.32" width="1.61" height="1.61"/><rect x="24.96" y="34.32" width="1.61" height="1.61"/><rect x="28.08" y="34.32" width="1.61" height="1.61"/><rect x="29.64" y="34.32" width="1.61" height="1.61"/><rect x="32.76" y="34.32" width="1.61" height="1.61"/><rect x="34.32" y="34.32" width="1.61" height="1.61"/><rect x="0.00" y="35.88" width="1.61" height="1.61"/><rect x="9.36" y="35.88" width="1.61" height="1.61"/><rect x="12.48" y="35.88" width="1.61" height="1.61"/><rect x="17.16" y="35.88" width="1.61" height="1.61"/><rect x="18.72" y="35.88" width="1.61" height="1.61"/><rect x="21.84" y="35.88" width="1.61" height="1.61"/><rect x="23.40" y="35.88" width="1.61" height="1.61"/><rect x="24.96" y="35.88" width="1.61" height="1.61"/><rect x="26.52" y="35.88" width="1.61" height="1.61"/><rect x="31.20" y="35.88" width="1.61" height="1.61"/><rect x="34.32" y="35.88" width="1.61" height="1.61"/><rect x="37.44" y="35.88" width="1.61" height="1.61"/><rect x="0.00" y="37.44" width="1.61" height="1.61"/><rect x="1.56" y="37.44" width="1.61" height="1.61"/><rect x="3.12" y="37.44" width="1.61" height="1.61"/><rect x="4.68" y="37.44" width="1.61" height="1.61"/><rect x="6.24" y="37.44" width="1.61" height="1.61"/><rect x="7.80" y="37.44" width="1.61" height="1.61"/><rect x="9.36" y="37.44" width="1.61" height="1.61"/><rect x="12.48" y="37.44" width="1.61" height="1.61"/><rect x="14.04" y="37.44" width="1.61" height="1.61"/><rect x="15.60" y="37.44" width="1.61" height="1.61"/><rect x="17.16" y="37.44" width="1.61" height="1.61"/><rect x="18.72" y="37.44" width="1.61" height="1.61"/><rect x="20.28" y="37.44" width="1.61" height="1.61"/><rect x="21.84" y="37.44" width="1.61" height="1.61"/><rect x="23.40" y="37.44" width="1.61" height="1.61"/><rect x="29.64" y="37.44" width="1.61" height="1.61"/><rect x="31.20" y="37.44" width="1.61" height="1.61"/><rect x="34.32" y="37.44" width="1.61" height="1.61"/><rect x="35.88" y="37.44" width="1.61" height="1.61"/><rect x="37.44" y="37.44" width="1.61" height="1.61"/></g></svg>
</body></html>
